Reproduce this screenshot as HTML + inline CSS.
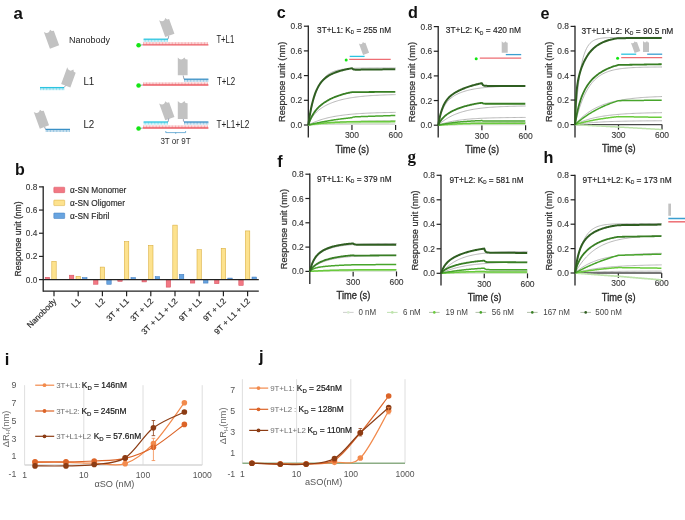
<!DOCTYPE html>
<html><head><meta charset="utf-8"><style>
html,body{margin:0;padding:0;background:#fff;}
body{width:685px;height:520px;overflow:hidden;}
svg{display:block;font-family:"Liberation Sans", sans-serif;will-change:transform;filter:blur(0.3px);}
</style></head><body>
<svg width="685" height="520" viewBox="0 0 685 520">
<rect width="685" height="520" fill="#fff"/>
<text x="13.40" y="19.00" font-size="16.8" fill="#111" font-weight="bold">a</text>
<path d="M-4.90,8.90 L-4.90,-8.90 Q-1.60,-4.63 1.70,-8.90 L2.84,-6.98 L4.90,-6.69 L4.90,8.90 Z" fill="#c2c2c2" transform="translate(51.50,38.60) rotate(-20)"/>
<text transform="translate(69.00,43.00) scale(1,1.08)" font-size="9.0" fill="#222" text-anchor="start" font-weight="normal" >Nanobody</text>
<path d="M40.60,87.60v2.60M42.05,87.60v2.60M43.50,87.60v2.60M44.95,87.60v2.60M46.40,87.60v2.60M47.85,87.60v2.60M49.30,87.60v2.60M50.75,87.60v2.60M52.20,87.60v2.60M53.65,87.60v2.60M55.10,87.60v2.60M56.55,87.60v2.60M58.00,87.60v2.60M59.45,87.60v2.60M60.90,87.60v2.60M62.35,87.60v2.60M63.80,87.60v2.60" stroke="#2cc4e0" stroke-width="0.65" fill="none" opacity="0.8"/>
<line x1="40.00" y1="87.60" x2="64.00" y2="87.60" stroke="#2cc4e0" stroke-width="1.3" />
<path d="M-4.90,8.90 L-4.90,-8.90 Q-1.60,-4.63 1.70,-8.90 L2.84,-6.98 L4.90,-6.69 L4.90,8.90 Z" fill="#c2c2c2" transform="translate(68.80,77.40) rotate(20)"/>
<line x1="64.00" y1="87.60" x2="65.60" y2="85.60" stroke="#5a6a80" stroke-width="0.6" />
<text transform="translate(83.40,84.80) scale(1,1.08)" font-size="9.8" fill="#222" text-anchor="start" font-weight="normal" >L1</text>
<path d="M46.20,129.40v2.60M47.65,129.40v2.60M49.10,129.40v2.60M50.55,129.40v2.60M52.00,129.40v2.60M53.45,129.40v2.60M54.90,129.40v2.60M56.35,129.40v2.60M57.80,129.40v2.60M59.25,129.40v2.60M60.70,129.40v2.60M62.15,129.40v2.60M63.60,129.40v2.60M65.05,129.40v2.60M66.50,129.40v2.60M67.95,129.40v2.60M69.40,129.40v2.60" stroke="#3a90c6" stroke-width="0.65" fill="none" opacity="0.8"/>
<line x1="45.60" y1="129.40" x2="70.00" y2="129.40" stroke="#3a90c6" stroke-width="1.3" />
<path d="M-4.90,8.90 L-4.90,-8.90 Q-1.60,-4.63 1.70,-8.90 L2.84,-6.98 L4.90,-6.69 L4.90,8.90 Z" fill="#c2c2c2" transform="translate(41.40,118.60) rotate(-20)"/>
<line x1="45.60" y1="129.40" x2="44.60" y2="127.00" stroke="#5a6a80" stroke-width="0.6" />
<text transform="translate(83.40,127.80) scale(1,1.08)" font-size="9.8" fill="#222" text-anchor="start" font-weight="normal" >L2</text>
<path d="M143.60,44.80v-2.60M145.05,44.80v-2.60M146.50,44.80v-2.60M147.95,44.80v-2.60M149.40,44.80v-2.60M150.85,44.80v-2.60M152.30,44.80v-2.60M153.75,44.80v-2.60M155.20,44.80v-2.60M156.65,44.80v-2.60M158.10,44.80v-2.60M159.55,44.80v-2.60M161.00,44.80v-2.60M162.45,44.80v-2.60M163.90,44.80v-2.60M165.35,44.80v-2.60M166.80,44.80v-2.60M168.25,44.80v-2.60M169.70,44.80v-2.60M171.15,44.80v-2.60M172.60,44.80v-2.60M174.05,44.80v-2.60M175.50,44.80v-2.60M176.95,44.80v-2.60M178.40,44.80v-2.60M179.85,44.80v-2.60M181.30,44.80v-2.60M182.75,44.80v-2.60M184.20,44.80v-2.60M185.65,44.80v-2.60M187.10,44.80v-2.60M188.55,44.80v-2.60M190.00,44.80v-2.60M191.45,44.80v-2.60M192.90,44.80v-2.60M194.35,44.80v-2.60M195.80,44.80v-2.60M197.25,44.80v-2.60M198.70,44.80v-2.60M200.15,44.80v-2.60M201.60,44.80v-2.60M203.05,44.80v-2.60M204.50,44.80v-2.60M205.95,44.80v-2.60M207.40,44.80v-2.60" stroke="#ec5c64" stroke-width="0.65" fill="none" opacity="0.8"/>
<line x1="143.00" y1="44.80" x2="208.40" y2="44.80" stroke="#ec5c64" stroke-width="1.3" />
<circle cx="138.6" cy="45.30" r="2.3" fill="#14e614"/>
<line x1="140.60" y1="45.10" x2="143.00" y2="44.80" stroke="#5a6a80" stroke-width="0.6" />
<path d="M144.20,39.20v2.60M145.65,39.20v2.60M147.10,39.20v2.60M148.55,39.20v2.60M150.00,39.20v2.60M151.45,39.20v2.60M152.90,39.20v2.60M154.35,39.20v2.60M155.80,39.20v2.60M157.25,39.20v2.60M158.70,39.20v2.60M160.15,39.20v2.60M161.60,39.20v2.60M163.05,39.20v2.60M164.50,39.20v2.60M165.95,39.20v2.60M167.40,39.20v2.60" stroke="#2cc4e0" stroke-width="0.65" fill="none" opacity="0.8"/>
<line x1="143.60" y1="39.20" x2="168.00" y2="39.20" stroke="#2cc4e0" stroke-width="1.3" />
<path d="M-4.90,8.90 L-4.90,-8.90 Q-1.60,-4.63 1.70,-8.90 L2.84,-6.98 L4.90,-6.69 L4.90,8.90 Z" fill="#c2c2c2" transform="translate(166.80,27.00) rotate(-20)"/>
<line x1="168.00" y1="39.20" x2="168.80" y2="36.00" stroke="#5a6a80" stroke-width="0.6" />
<text transform="translate(216.40,43.20) scale(1,1.08)" font-size="9.3" fill="#222" text-anchor="start" font-weight="normal" textLength="17.8" lengthAdjust="spacingAndGlyphs">T+L1</text>
<path d="M143.60,85.00v-2.60M145.05,85.00v-2.60M146.50,85.00v-2.60M147.95,85.00v-2.60M149.40,85.00v-2.60M150.85,85.00v-2.60M152.30,85.00v-2.60M153.75,85.00v-2.60M155.20,85.00v-2.60M156.65,85.00v-2.60M158.10,85.00v-2.60M159.55,85.00v-2.60M161.00,85.00v-2.60M162.45,85.00v-2.60M163.90,85.00v-2.60M165.35,85.00v-2.60M166.80,85.00v-2.60M168.25,85.00v-2.60M169.70,85.00v-2.60M171.15,85.00v-2.60M172.60,85.00v-2.60M174.05,85.00v-2.60M175.50,85.00v-2.60M176.95,85.00v-2.60M178.40,85.00v-2.60M179.85,85.00v-2.60M181.30,85.00v-2.60M182.75,85.00v-2.60M184.20,85.00v-2.60M185.65,85.00v-2.60M187.10,85.00v-2.60M188.55,85.00v-2.60M190.00,85.00v-2.60M191.45,85.00v-2.60M192.90,85.00v-2.60M194.35,85.00v-2.60M195.80,85.00v-2.60M197.25,85.00v-2.60M198.70,85.00v-2.60M200.15,85.00v-2.60M201.60,85.00v-2.60M203.05,85.00v-2.60M204.50,85.00v-2.60M205.95,85.00v-2.60M207.40,85.00v-2.60" stroke="#ec5c64" stroke-width="0.65" fill="none" opacity="0.8"/>
<line x1="143.00" y1="85.00" x2="208.40" y2="85.00" stroke="#ec5c64" stroke-width="1.3" />
<circle cx="138.6" cy="85.50" r="2.3" fill="#14e614"/>
<line x1="140.60" y1="85.30" x2="143.00" y2="85.00" stroke="#5a6a80" stroke-width="0.6" />
<path d="M184.60,79.20v2.60M186.05,79.20v2.60M187.50,79.20v2.60M188.95,79.20v2.60M190.40,79.20v2.60M191.85,79.20v2.60M193.30,79.20v2.60M194.75,79.20v2.60M196.20,79.20v2.60M197.65,79.20v2.60M199.10,79.20v2.60M200.55,79.20v2.60M202.00,79.20v2.60M203.45,79.20v2.60M204.90,79.20v2.60M206.35,79.20v2.60M207.80,79.20v2.60" stroke="#3a90c6" stroke-width="0.65" fill="none" opacity="0.8"/>
<line x1="184.00" y1="79.20" x2="208.40" y2="79.20" stroke="#3a90c6" stroke-width="1.3" />
<path d="M-4.90,8.90 L-4.90,-8.90 Q-1.60,-4.63 1.70,-8.90 L2.84,-6.98 L4.90,-6.69 L4.90,8.90 Z" fill="#c2c2c2" transform="translate(182.70,66.30) rotate(0)"/>
<line x1="184.00" y1="79.20" x2="183.20" y2="75.50" stroke="#5a6a80" stroke-width="0.6" />
<text transform="translate(217.00,85.20) scale(1,1.08)" font-size="9.3" fill="#222" text-anchor="start" font-weight="normal" textLength="18.2" lengthAdjust="spacingAndGlyphs">T+L2</text>
<path d="M143.60,128.00v-2.60M145.05,128.00v-2.60M146.50,128.00v-2.60M147.95,128.00v-2.60M149.40,128.00v-2.60M150.85,128.00v-2.60M152.30,128.00v-2.60M153.75,128.00v-2.60M155.20,128.00v-2.60M156.65,128.00v-2.60M158.10,128.00v-2.60M159.55,128.00v-2.60M161.00,128.00v-2.60M162.45,128.00v-2.60M163.90,128.00v-2.60M165.35,128.00v-2.60M166.80,128.00v-2.60M168.25,128.00v-2.60M169.70,128.00v-2.60M171.15,128.00v-2.60M172.60,128.00v-2.60M174.05,128.00v-2.60M175.50,128.00v-2.60M176.95,128.00v-2.60M178.40,128.00v-2.60M179.85,128.00v-2.60M181.30,128.00v-2.60M182.75,128.00v-2.60M184.20,128.00v-2.60M185.65,128.00v-2.60M187.10,128.00v-2.60M188.55,128.00v-2.60M190.00,128.00v-2.60M191.45,128.00v-2.60M192.90,128.00v-2.60M194.35,128.00v-2.60M195.80,128.00v-2.60M197.25,128.00v-2.60M198.70,128.00v-2.60M200.15,128.00v-2.60M201.60,128.00v-2.60M203.05,128.00v-2.60M204.50,128.00v-2.60M205.95,128.00v-2.60M207.40,128.00v-2.60" stroke="#ec5c64" stroke-width="0.65" fill="none" opacity="0.8"/>
<line x1="143.00" y1="128.00" x2="208.40" y2="128.00" stroke="#ec5c64" stroke-width="1.3" />
<circle cx="138.6" cy="128.50" r="2.3" fill="#14e614"/>
<line x1="140.60" y1="128.30" x2="143.00" y2="128.00" stroke="#5a6a80" stroke-width="0.6" />
<path d="M144.20,122.00v2.60M145.65,122.00v2.60M147.10,122.00v2.60M148.55,122.00v2.60M150.00,122.00v2.60M151.45,122.00v2.60M152.90,122.00v2.60M154.35,122.00v2.60M155.80,122.00v2.60M157.25,122.00v2.60M158.70,122.00v2.60M160.15,122.00v2.60M161.60,122.00v2.60M163.05,122.00v2.60M164.50,122.00v2.60M165.95,122.00v2.60M167.40,122.00v2.60" stroke="#2cc4e0" stroke-width="0.65" fill="none" opacity="0.8"/>
<line x1="143.60" y1="122.00" x2="168.00" y2="122.00" stroke="#2cc4e0" stroke-width="1.3" />
<path d="M184.60,122.00v2.60M186.05,122.00v2.60M187.50,122.00v2.60M188.95,122.00v2.60M190.40,122.00v2.60M191.85,122.00v2.60M193.30,122.00v2.60M194.75,122.00v2.60M196.20,122.00v2.60M197.65,122.00v2.60M199.10,122.00v2.60M200.55,122.00v2.60M202.00,122.00v2.60M203.45,122.00v2.60M204.90,122.00v2.60M206.35,122.00v2.60M207.80,122.00v2.60" stroke="#3a90c6" stroke-width="0.65" fill="none" opacity="0.8"/>
<line x1="184.00" y1="122.00" x2="208.40" y2="122.00" stroke="#3a90c6" stroke-width="1.3" />
<path d="M-4.90,8.90 L-4.90,-8.90 Q-1.60,-4.63 1.70,-8.90 L2.84,-6.98 L4.90,-6.69 L4.90,8.90 Z" fill="#c2c2c2" transform="translate(166.80,110.20) rotate(-20)"/>
<path d="M-4.90,8.90 L-4.90,-8.90 Q-1.60,-4.63 1.70,-8.90 L2.84,-6.98 L4.90,-6.69 L4.90,8.90 Z" fill="#c2c2c2" transform="translate(182.70,110.00) rotate(0)"/>
<line x1="168.00" y1="122.00" x2="168.80" y2="118.60" stroke="#5a6a90" stroke-width="0.6" />
<line x1="183.40" y1="119.00" x2="183.40" y2="121.20" stroke="#5a6a90" stroke-width="0.6" />
<line x1="183.40" y1="121.20" x2="184.40" y2="122.00" stroke="#5a6a90" stroke-width="0.6" />
<text transform="translate(216.40,128.30) scale(1,1.08)" font-size="9.3" fill="#222" text-anchor="start" font-weight="normal" textLength="33" lengthAdjust="spacingAndGlyphs">T+L1+L2</text>
<path d="M165.8,131 v1.6 H185.6 V131 M175.7,132.6 v1.2" stroke="#3a90c6" stroke-width="0.7" fill="none"/>
<text transform="translate(160.40,144.20) scale(1,1.08)" font-size="8.5" fill="#2a2a2a" text-anchor="start" font-weight="normal" textLength="30.2" lengthAdjust="spacingAndGlyphs">3T or 9T</text>
<text x="15.00" y="174.60" font-size="16" fill="#111" font-weight="bold">b</text>
<line x1="43.20" y1="186.28" x2="43.20" y2="291.70" stroke="#222" stroke-width="1.3" />
<line x1="39.00" y1="186.88" x2="43.20" y2="186.88" stroke="#222" stroke-width="1.2" />
<text transform="translate(37.30,189.88) scale(1,1.08)" font-size="8.3" fill="#383838" text-anchor="end" font-weight="normal" stroke="#383838" stroke-width="0.12">0.8</text>
<line x1="39.00" y1="210.06" x2="43.20" y2="210.06" stroke="#222" stroke-width="1.2" />
<text transform="translate(37.30,213.06) scale(1,1.08)" font-size="8.3" fill="#383838" text-anchor="end" font-weight="normal" stroke="#383838" stroke-width="0.12">0.6</text>
<line x1="39.00" y1="233.24" x2="43.20" y2="233.24" stroke="#222" stroke-width="1.2" />
<text transform="translate(37.30,236.24) scale(1,1.08)" font-size="8.3" fill="#383838" text-anchor="end" font-weight="normal" stroke="#383838" stroke-width="0.12">0.4</text>
<line x1="39.00" y1="256.42" x2="43.20" y2="256.42" stroke="#222" stroke-width="1.2" />
<text transform="translate(37.30,259.42) scale(1,1.08)" font-size="8.3" fill="#383838" text-anchor="end" font-weight="normal" stroke="#383838" stroke-width="0.12">0.2</text>
<line x1="39.00" y1="279.60" x2="43.20" y2="279.60" stroke="#222" stroke-width="1.2" />
<text transform="translate(37.30,282.60) scale(1,1.08)" font-size="8.3" fill="#383838" text-anchor="end" font-weight="normal" stroke="#383838" stroke-width="0.12">0.0</text>
<line x1="43.20" y1="291.10" x2="258.80" y2="291.10" stroke="#222" stroke-width="1.3" />
<text transform="translate(20.9,238.9) rotate(-90) scale(1,1.06)" font-size="8.6" fill="#333" stroke="#333" stroke-width="0.25" text-anchor="middle">Response unit (nm)</text>
<rect x="45.20" y="277.28" width="4.4" height="2.32" fill="#f27884" stroke="#d84e5c" stroke-width="0.55"/>
<rect x="51.80" y="261.40" width="4.4" height="18.20" fill="#fde28e" stroke="#d8aa38" stroke-width="0.55"/>
<line x1="54.00" y1="291.10" x2="54.00" y2="296.20" stroke="#222" stroke-width="1.2" />
<text transform="translate(57.00,301.80) rotate(-45)" font-size="8.3" fill="#2a2a2a" stroke="#2a2a2a" stroke-width="0.15" text-anchor="end">Nanobody</text>
<rect x="69.40" y="275.20" width="4.4" height="4.40" fill="#f27884" stroke="#d84e5c" stroke-width="0.55"/>
<rect x="76.00" y="276.35" width="4.4" height="3.25" fill="#fde28e" stroke="#d8aa38" stroke-width="0.55"/>
<rect x="82.60" y="277.63" width="4.4" height="1.97" fill="#68a4e0" stroke="#3a78bc" stroke-width="0.55"/>
<line x1="78.20" y1="291.10" x2="78.20" y2="296.20" stroke="#222" stroke-width="1.2" />
<text transform="translate(81.20,301.80) rotate(-45)" font-size="8.3" fill="#2a2a2a" stroke="#2a2a2a" stroke-width="0.15" text-anchor="end">L1</text>
<rect x="93.60" y="279.60" width="4.4" height="4.64" fill="#f27884" stroke="#d84e5c" stroke-width="0.55"/>
<rect x="100.20" y="267.08" width="4.4" height="12.52" fill="#fde28e" stroke="#d8aa38" stroke-width="0.55"/>
<rect x="106.80" y="279.60" width="4.4" height="4.64" fill="#68a4e0" stroke="#3a78bc" stroke-width="0.55"/>
<line x1="102.40" y1="291.10" x2="102.40" y2="296.20" stroke="#222" stroke-width="1.2" />
<text transform="translate(105.40,301.80) rotate(-45)" font-size="8.3" fill="#2a2a2a" stroke="#2a2a2a" stroke-width="0.15" text-anchor="end">L2</text>
<rect x="117.80" y="279.60" width="4.4" height="1.74" fill="#f27884" stroke="#d84e5c" stroke-width="0.55"/>
<rect x="124.40" y="241.58" width="4.4" height="38.02" fill="#fde28e" stroke="#d8aa38" stroke-width="0.55"/>
<rect x="131.00" y="277.63" width="4.4" height="1.97" fill="#68a4e0" stroke="#3a78bc" stroke-width="0.55"/>
<line x1="126.60" y1="291.10" x2="126.60" y2="296.20" stroke="#222" stroke-width="1.2" />
<text transform="translate(129.60,301.80) rotate(-45)" font-size="8.3" fill="#2a2a2a" stroke="#2a2a2a" stroke-width="0.15" text-anchor="end">3T + L1</text>
<rect x="142.00" y="279.60" width="4.4" height="2.32" fill="#f27884" stroke="#d84e5c" stroke-width="0.55"/>
<rect x="148.60" y="245.41" width="4.4" height="34.19" fill="#fde28e" stroke="#d8aa38" stroke-width="0.55"/>
<rect x="155.20" y="276.70" width="4.4" height="2.90" fill="#68a4e0" stroke="#3a78bc" stroke-width="0.55"/>
<line x1="150.80" y1="291.10" x2="150.80" y2="296.20" stroke="#222" stroke-width="1.2" />
<text transform="translate(153.80,301.80) rotate(-45)" font-size="8.3" fill="#2a2a2a" stroke="#2a2a2a" stroke-width="0.15" text-anchor="end">3T + L2</text>
<rect x="166.20" y="279.60" width="4.4" height="7.53" fill="#f27884" stroke="#d84e5c" stroke-width="0.55"/>
<rect x="172.80" y="225.13" width="4.4" height="54.47" fill="#fde28e" stroke="#d8aa38" stroke-width="0.55"/>
<rect x="179.40" y="274.38" width="4.4" height="5.22" fill="#68a4e0" stroke="#3a78bc" stroke-width="0.55"/>
<line x1="175.00" y1="291.10" x2="175.00" y2="296.20" stroke="#222" stroke-width="1.2" />
<text transform="translate(178.00,301.80) rotate(-45)" font-size="8.3" fill="#2a2a2a" stroke="#2a2a2a" stroke-width="0.15" text-anchor="end">3T + L1 + L2</text>
<rect x="190.40" y="279.60" width="4.4" height="3.48" fill="#f27884" stroke="#d84e5c" stroke-width="0.55"/>
<rect x="197.00" y="249.70" width="4.4" height="29.90" fill="#fde28e" stroke="#d8aa38" stroke-width="0.55"/>
<rect x="203.60" y="279.60" width="4.4" height="3.48" fill="#68a4e0" stroke="#3a78bc" stroke-width="0.55"/>
<line x1="199.20" y1="291.10" x2="199.20" y2="296.20" stroke="#222" stroke-width="1.2" />
<text transform="translate(202.20,301.80) rotate(-45)" font-size="8.3" fill="#2a2a2a" stroke="#2a2a2a" stroke-width="0.15" text-anchor="end">9T + L1</text>
<rect x="214.60" y="279.60" width="4.4" height="4.06" fill="#f27884" stroke="#d84e5c" stroke-width="0.55"/>
<rect x="221.20" y="248.31" width="4.4" height="31.29" fill="#fde28e" stroke="#d8aa38" stroke-width="0.55"/>
<rect x="227.80" y="278.09" width="4.4" height="1.51" fill="#68a4e0" stroke="#3a78bc" stroke-width="0.55"/>
<line x1="223.40" y1="291.10" x2="223.40" y2="296.20" stroke="#222" stroke-width="1.2" />
<text transform="translate(226.40,301.80) rotate(-45)" font-size="8.3" fill="#2a2a2a" stroke="#2a2a2a" stroke-width="0.15" text-anchor="end">9T + L2</text>
<rect x="238.80" y="279.60" width="4.4" height="5.80" fill="#f27884" stroke="#d84e5c" stroke-width="0.55"/>
<rect x="245.40" y="230.92" width="4.4" height="48.68" fill="#fde28e" stroke="#d8aa38" stroke-width="0.55"/>
<rect x="252.00" y="277.05" width="4.4" height="2.55" fill="#68a4e0" stroke="#3a78bc" stroke-width="0.55"/>
<line x1="247.60" y1="291.10" x2="247.60" y2="296.20" stroke="#222" stroke-width="1.2" />
<text transform="translate(250.60,301.80) rotate(-45)" font-size="8.3" fill="#2a2a2a" stroke="#2a2a2a" stroke-width="0.15" text-anchor="end">9T + L1 + L2</text>
<line x1="43.20" y1="279.60" x2="258.80" y2="279.60" stroke="#222" stroke-width="1.4" />
<rect x="53.8" y="187.20" width="10.9" height="5.5" fill="#f27884" stroke="#d84e5c" stroke-width="0.5" rx="0.6"/>
<text transform="translate(70.00,192.80) scale(1,1.08)" font-size="8.3" fill="#2a2a2a" text-anchor="start" font-weight="normal" stroke="#2a2a2a" stroke-width="0.15">α-SN Monomer</text>
<rect x="53.8" y="200.10" width="10.9" height="5.5" fill="#fde28e" stroke="#d8aa38" stroke-width="0.5" rx="0.6"/>
<text transform="translate(70.00,205.70) scale(1,1.08)" font-size="8.3" fill="#2a2a2a" text-anchor="start" font-weight="normal" stroke="#2a2a2a" stroke-width="0.15">α-SN Oligomer</text>
<rect x="53.8" y="213.00" width="10.9" height="5.5" fill="#68a4e0" stroke="#3a78bc" stroke-width="0.5" rx="0.6"/>
<text transform="translate(70.00,218.60) scale(1,1.08)" font-size="8.3" fill="#2a2a2a" text-anchor="start" font-weight="normal" stroke="#2a2a2a" stroke-width="0.15">α-SN Fibril</text>
<text x="276.80" y="17.80" font-size="16.2" fill="#111" font-weight="bold">c</text>
<line x1="308.30" y1="25.60" x2="308.30" y2="137.50" stroke="#222" stroke-width="1.3" />
<line x1="303.90" y1="26.20" x2="308.30" y2="26.20" stroke="#222" stroke-width="1.2" />
<text transform="translate(302.30,29.20) scale(1,1.08)" font-size="8.4" fill="#383838" text-anchor="end" font-weight="normal" stroke="#383838" stroke-width="0.12">0.8</text>
<line x1="303.90" y1="50.90" x2="308.30" y2="50.90" stroke="#222" stroke-width="1.2" />
<text transform="translate(302.30,53.90) scale(1,1.08)" font-size="8.4" fill="#383838" text-anchor="end" font-weight="normal" stroke="#383838" stroke-width="0.12">0.6</text>
<line x1="303.90" y1="75.60" x2="308.30" y2="75.60" stroke="#222" stroke-width="1.2" />
<text transform="translate(302.30,78.60) scale(1,1.08)" font-size="8.4" fill="#383838" text-anchor="end" font-weight="normal" stroke="#383838" stroke-width="0.12">0.4</text>
<line x1="303.90" y1="100.30" x2="308.30" y2="100.30" stroke="#222" stroke-width="1.2" />
<text transform="translate(302.30,103.30) scale(1,1.08)" font-size="8.4" fill="#383838" text-anchor="end" font-weight="normal" stroke="#383838" stroke-width="0.12">0.2</text>
<line x1="303.90" y1="125.00" x2="308.30" y2="125.00" stroke="#222" stroke-width="1.2" />
<text transform="translate(302.30,128.00) scale(1,1.08)" font-size="8.4" fill="#383838" text-anchor="end" font-weight="normal" stroke="#383838" stroke-width="0.12">0.0</text>
<line x1="351.95" y1="125.00" x2="351.95" y2="130.00" stroke="#222" stroke-width="1.2" />
<text transform="translate(351.95,138.30) scale(1,1.08)" font-size="8.5" fill="#383838" text-anchor="middle" font-weight="normal" stroke="#383838" stroke-width="0.12">300</text>
<line x1="395.60" y1="125.00" x2="395.60" y2="130.00" stroke="#222" stroke-width="1.2" />
<text transform="translate(395.60,138.30) scale(1,1.08)" font-size="8.5" fill="#383838" text-anchor="middle" font-weight="normal" stroke="#383838" stroke-width="0.12">600</text>
<text transform="translate(352.25,152.80) scale(1,1.08)" font-size="9.3" fill="#2a2a2a" text-anchor="middle" font-weight="normal" stroke="#2a2a2a" stroke-width="0.3">Time (s)</text>
<text transform="translate(285.30,81.85) rotate(-90) scale(1,1.06)" font-size="9.2" fill="#333" stroke="#333" stroke-width="0.25" text-anchor="middle">Response unit (nm)</text>
<text transform="translate(317.10,32.90) scale(1,1.08)" font-size="9.2" fill="#222" stroke="#222" stroke-width="0.15" textLength="74" lengthAdjust="spacingAndGlyphs">3T+L1: K<tspan font-size="5.06" dy="1.3">D</tspan><tspan dy="-1.3"> = 255 nM</tspan></text>
<polyline points="308.30,125.00 309.46,124.39 310.63,123.81 311.79,123.26 312.96,122.73 314.12,122.23 315.28,121.76 316.45,121.30 317.61,120.87 318.78,120.45 319.94,120.06 321.10,119.68 322.27,119.32 323.43,118.98 324.60,118.65 325.76,118.34 326.92,118.05 328.09,117.77 329.25,117.50 330.42,117.24 331.58,117.00 332.74,116.76 333.91,116.54 335.07,116.33 336.24,116.13 337.40,115.94 338.56,115.76 339.73,115.58 340.89,115.41 342.06,115.26 343.22,115.10 344.38,114.96 345.55,114.82 346.71,114.69 347.88,114.57 349.04,114.45 350.20,114.34 351.37,114.23 352.53,114.13 353.70,114.03 354.86,113.93 356.02,113.84 357.19,113.76 358.35,113.68 359.52,113.60 360.68,113.53 361.84,113.46 363.01,113.39 364.17,113.33 365.34,113.27 366.50,113.21 367.66,113.15 368.83,113.10 369.99,113.05 371.16,113.00 372.32,112.96 373.48,112.91 374.65,112.87 375.81,112.83 376.98,112.80 378.14,112.76 379.30,112.73 380.47,112.69 381.63,112.66 382.80,112.63 383.96,112.61 385.12,112.58 386.29,112.55 387.45,112.53 388.62,112.51 389.78,112.48 390.94,112.46 392.11,112.44 393.27,112.42 394.44,112.40 395.60,112.39" fill="none" stroke="#a0a0a0" stroke-width="0.75"/>
<polyline points="308.30,125.00 309.46,122.24 310.63,119.91 311.79,117.92 312.96,116.20 314.12,114.69 315.28,113.36 316.45,112.16 317.61,111.08 318.78,110.09 319.94,109.19 321.10,108.35 322.27,107.57 323.43,106.85 324.60,106.17 325.76,105.54 326.92,104.94 328.09,104.38 329.25,103.85 330.42,103.35 331.58,102.88 332.74,102.43 333.91,102.01 335.07,101.60 336.24,101.22 337.40,100.86 338.56,100.52 339.73,100.19 340.89,99.89 342.06,99.59 343.22,99.32 344.38,99.05 345.55,98.80 346.71,98.57 347.88,98.34 349.04,98.13 350.20,97.92 351.37,97.73 352.53,97.55 353.70,97.38 354.86,97.21 356.02,97.05 357.19,96.91 358.35,96.77 359.52,96.63 360.68,96.50 361.84,96.38 363.01,96.27 364.17,96.16 365.34,96.06 366.50,95.96 367.66,95.87 368.83,95.78 369.99,95.69 371.16,95.62 372.32,95.54 373.48,95.47 374.65,95.40 375.81,95.34 376.98,95.27 378.14,95.22 379.30,95.16 380.47,95.11 381.63,95.06 382.80,95.01 383.96,94.97 385.12,94.92 386.29,94.88 387.45,94.84 388.62,94.81 389.78,94.77 390.94,94.74 392.11,94.71 393.27,94.68 394.44,94.65 395.60,94.62" fill="none" stroke="#a0a0a0" stroke-width="0.75"/>
<polyline points="308.30,125.00 309.46,118.14 310.63,112.11 311.79,106.81 312.96,102.14 314.12,98.03 315.28,94.41 316.45,91.23 317.61,88.44 318.78,85.97 319.94,83.81 321.10,81.90 322.27,80.22 323.43,78.75 324.60,77.45 325.76,76.31 326.92,75.30 328.09,74.42 329.25,73.64 330.42,72.96 331.58,72.35 332.74,71.82 333.91,71.36 335.07,70.95 336.24,70.59 337.40,70.27 338.56,69.99 339.73,69.74 340.89,69.53 342.06,69.34 343.22,69.17 344.38,69.02 345.55,68.89 346.71,68.78 347.88,68.68 349.04,68.59 350.20,68.51 351.37,68.44 352.53,68.38 353.70,68.33 354.86,68.28 356.02,68.24 357.19,68.21 358.35,68.18 359.52,68.15 360.68,68.12 361.84,68.10 363.01,68.08 364.17,68.07 365.34,68.05 366.50,68.04 367.66,68.03 368.83,68.02 369.99,68.01 371.16,68.00 372.32,67.99 373.48,67.99 374.65,67.98 375.81,67.98 376.98,67.97 378.14,67.97 379.30,67.97 380.47,67.96 381.63,67.96 382.80,67.96 383.96,67.96 385.12,67.96 386.29,67.95 387.45,67.95 388.62,67.95 389.78,67.95 390.94,67.95 392.11,67.95 393.27,67.95 394.44,67.95 395.60,67.95" fill="none" stroke="#a0a0a0" stroke-width="0.75"/>
<polyline points="308.30,125.00 309.46,124.80 310.63,124.60 311.79,124.42 312.96,124.24 314.12,124.08 315.28,123.92 316.45,123.77 317.61,123.62 318.78,123.48 319.94,123.35 321.10,123.23 322.27,123.11 323.43,122.99 324.60,122.88 325.76,122.78 326.92,122.68 328.09,122.59 329.25,122.50 330.42,122.41 331.58,122.33 332.74,122.25 333.91,122.18 335.07,122.11 336.24,122.04 337.40,121.98 338.56,121.92 339.73,121.86 340.89,121.80 342.06,121.75 343.22,121.70 344.38,121.65 345.55,121.61 346.71,121.56 347.88,121.52 349.04,121.48 350.20,121.45 351.37,121.41 352.53,121.38 353.70,121.34 354.86,121.31 356.02,121.28 357.19,121.25 358.35,121.23 359.52,121.20 360.68,121.18 361.84,121.15 363.01,121.13 364.17,121.11 365.34,121.09 366.50,121.07 367.66,121.05 368.83,121.03 369.99,121.02 371.16,121.00 372.32,120.99 373.48,120.97 374.65,120.96 375.81,120.94 376.98,120.93 378.14,120.92 379.30,120.91 380.47,120.90 381.63,120.89 382.80,120.88 383.96,120.87 385.12,120.86 386.29,120.85 387.45,120.84 388.62,120.84 389.78,120.83 390.94,120.82 392.11,120.81 393.27,120.81 394.44,120.80 395.60,120.80" fill="none" stroke="#a0a0a0" stroke-width="0.75"/>
<polyline points="308.30,125.00 309.03,124.95 309.75,124.91 310.48,124.86 311.21,124.82 311.94,124.78 312.67,124.74 313.39,124.71 314.12,124.67 314.85,124.64 315.57,124.61 316.30,124.58 317.03,124.55 317.76,124.53 318.49,124.50 319.21,124.48 319.94,124.46 320.67,124.43 321.40,124.41 322.12,124.39 322.85,124.38 323.58,124.36 324.31,124.34 325.03,124.32 325.76,124.31 326.49,124.30 327.22,124.28 327.94,124.27 328.67,124.26 329.40,124.24 330.12,124.23 330.85,124.22 331.58,124.21 332.31,124.20 333.04,124.19 333.76,124.18 334.49,124.18 335.22,124.17 335.94,124.16 336.67,124.15 337.40,124.15 338.13,124.14 338.86,124.13 339.58,124.13 340.31,124.12 341.04,124.12 341.76,124.11 342.49,124.11 343.22,124.10 343.95,124.10 344.68,124.09 345.40,124.09 346.13,124.09 346.86,124.08 347.59,124.08 348.31,124.08 349.04,124.07 349.77,124.07 350.50,124.07 351.22,124.06 351.95,124.06 352.39,124.06 353.11,124.06 353.84,124.06 354.57,124.06 355.30,124.06 356.02,124.06 356.75,124.06 357.48,124.06 358.21,124.06 358.93,124.06 359.66,124.06 360.39,124.06 361.12,124.06 361.84,124.06 362.57,124.06 363.30,124.06 364.03,124.06 364.75,124.06 365.48,124.06 366.21,124.06 366.94,124.06 367.66,124.06 368.39,124.06 369.12,124.06 369.85,124.06 370.57,124.06 371.30,124.06 372.03,124.06 372.76,124.06 373.48,124.06 374.21,124.06 374.94,124.06 375.67,124.06 376.39,124.06 377.12,124.06 377.85,124.06 378.58,124.06 379.30,124.06 380.03,124.06 380.76,124.06 381.49,124.06 382.21,124.06 382.94,124.06 383.67,124.06 384.40,124.06 385.12,124.06 385.85,124.06 386.58,124.06 387.31,124.06 388.03,124.06 388.76,124.06 389.49,124.06 390.22,124.06 390.94,124.06 391.67,124.06 392.40,124.06 393.13,124.06 393.85,124.06 394.58,124.06 395.31,124.06" fill="none" stroke="#cfcfcf" stroke-width="1.2" stroke-linejoin="round"/>
<polyline points="308.30,125.00 309.03,124.93 309.75,124.86 310.48,124.79 311.21,124.72 311.94,124.66 312.67,124.59 313.39,124.53 314.12,124.47 314.85,124.42 315.57,124.36 316.30,124.31 317.03,124.25 317.76,124.20 318.49,124.15 319.21,124.10 319.94,124.06 320.67,124.01 321.40,123.97 322.12,123.93 322.85,123.89 323.58,123.85 324.31,123.81 325.03,123.77 325.76,123.73 326.49,123.70 327.22,123.66 327.94,123.63 328.67,123.60 329.40,123.56 330.12,123.53 330.85,123.50 331.58,123.48 332.31,123.45 333.04,123.42 333.76,123.39 334.49,123.37 335.22,123.34 335.94,123.32 336.67,123.30 337.40,123.27 338.13,123.25 338.86,123.23 339.58,123.21 340.31,123.19 341.04,123.17 341.76,123.15 342.49,123.13 343.22,123.12 343.95,123.10 344.68,123.08 345.40,123.06 346.13,123.05 346.86,123.03 347.59,123.02 348.31,123.00 349.04,122.99 349.77,122.98 350.50,122.96 351.22,122.95 351.95,122.94 352.39,122.93 353.11,122.93 353.84,122.92 354.57,122.92 355.30,122.91 356.02,122.90 356.75,122.90 357.48,122.89 358.21,122.89 358.93,122.88 359.66,122.87 360.39,122.87 361.12,122.86 361.84,122.85 362.57,122.85 363.30,122.84 364.03,122.84 364.75,122.83 365.48,122.82 366.21,122.82 366.94,122.81 367.66,122.80 368.39,122.80 369.12,122.79 369.85,122.79 370.57,122.78 371.30,122.77 372.03,122.77 372.76,122.76 373.48,122.76 374.21,122.75 374.94,122.74 375.67,122.74 376.39,122.73 377.12,122.72 377.85,122.72 378.58,122.71 379.30,122.71 380.03,122.70 380.76,122.69 381.49,122.69 382.21,122.68 382.94,122.68 383.67,122.67 384.40,122.66 385.12,122.66 385.85,122.65 386.58,122.64 387.31,122.64 388.03,122.63 388.76,122.63 389.49,122.62 390.22,122.61 390.94,122.61 391.67,122.60 392.40,122.59 393.13,122.59 393.85,122.58 394.58,122.58 395.31,122.57" fill="none" stroke="#bde3aa" stroke-width="1.5" stroke-linejoin="round"/>
<polyline points="308.30,125.00 309.03,124.88 309.75,124.77 310.48,124.66 311.21,124.55 311.94,124.45 312.67,124.35 313.39,124.25 314.12,124.16 314.85,124.06 315.57,123.98 316.30,123.89 317.03,123.81 317.76,123.72 318.49,123.64 319.21,123.57 319.94,123.49 320.67,123.42 321.40,123.35 322.12,123.28 322.85,123.22 323.58,123.15 324.31,123.09 325.03,123.03 325.76,122.97 326.49,122.91 327.22,122.86 327.94,122.81 328.67,122.75 329.40,122.70 330.12,122.65 330.85,122.61 331.58,122.56 332.31,122.52 333.04,122.47 333.76,122.43 334.49,122.39 335.22,122.35 335.94,122.31 336.67,122.27 337.40,122.24 338.13,122.20 338.86,122.17 339.58,122.14 340.31,122.10 341.04,122.07 341.76,122.04 342.49,122.01 343.22,121.98 343.95,121.96 344.68,121.93 345.40,121.90 346.13,121.88 346.86,121.85 347.59,121.83 348.31,121.81 349.04,121.78 349.77,121.76 350.50,121.74 351.22,121.72 351.95,121.70 352.39,121.70 353.11,121.69 353.84,121.69 354.57,121.68 355.30,121.67 356.02,121.67 356.75,121.66 357.48,121.65 358.21,121.65 358.93,121.64 359.66,121.64 360.39,121.63 361.12,121.62 361.84,121.62 362.57,121.61 363.30,121.60 364.03,121.60 364.75,121.59 365.48,121.59 366.21,121.58 366.94,121.57 367.66,121.57 368.39,121.56 369.12,121.56 369.85,121.55 370.57,121.54 371.30,121.54 372.03,121.53 372.76,121.52 373.48,121.52 374.21,121.51 374.94,121.51 375.67,121.50 376.39,121.49 377.12,121.49 377.85,121.48 378.58,121.48 379.30,121.47 380.03,121.46 380.76,121.46 381.49,121.45 382.21,121.44 382.94,121.44 383.67,121.43 384.40,121.43 385.12,121.42 385.85,121.41 386.58,121.41 387.31,121.40 388.03,121.39 388.76,121.39 389.49,121.38 390.22,121.38 390.94,121.37 391.67,121.36 392.40,121.36 393.13,121.35 393.85,121.35 394.58,121.34 395.31,121.33" fill="none" stroke="#6acb3c" stroke-width="1.5" stroke-linejoin="round"/>
<polyline points="308.30,125.00 309.03,124.82 309.75,124.64 310.48,124.46 311.21,124.28 311.94,124.11 312.67,123.94 313.39,123.77 314.12,123.60 314.85,123.44 315.57,123.28 316.30,123.12 317.03,122.97 317.76,122.81 318.49,122.66 319.21,122.51 319.94,122.36 320.67,122.22 321.40,122.08 322.12,121.94 322.85,121.80 323.58,121.66 324.31,121.53 325.03,121.40 325.76,121.27 326.49,121.14 327.22,121.01 327.94,120.89 328.67,120.76 329.40,120.64 330.12,120.52 330.85,120.41 331.58,120.29 332.31,120.18 333.04,120.07 333.76,119.96 334.49,119.85 335.22,119.74 335.94,119.63 336.67,119.53 337.40,119.43 338.13,119.33 338.86,119.23 339.58,119.13 340.31,119.03 341.04,118.94 341.76,118.84 342.49,118.75 343.22,118.66 343.95,118.57 344.68,118.48 345.40,118.40 346.13,118.31 346.86,118.23 347.59,118.14 348.31,118.06 349.04,117.98 349.77,117.90 350.50,117.82 351.22,117.75 351.95,117.67 352.39,117.40 353.11,117.13 353.84,116.98 354.57,116.90 355.30,116.84 356.02,116.81 356.75,116.77 357.48,116.75 358.21,116.72 358.93,116.69 359.66,116.67 360.39,116.64 361.12,116.62 361.84,116.59 362.57,116.57 363.30,116.54 364.03,116.52 364.75,116.50 365.48,116.47 366.21,116.45 366.94,116.42 367.66,116.40 368.39,116.37 369.12,116.35 369.85,116.32 370.57,116.30 371.30,116.27 372.03,116.25 372.76,116.22 373.48,116.20 374.21,116.17 374.94,116.15 375.67,116.12 376.39,116.10 377.12,116.08 377.85,116.05 378.58,116.03 379.30,116.00 380.03,115.98 380.76,115.95 381.49,115.93 382.21,115.90 382.94,115.88 383.67,115.85 384.40,115.83 385.12,115.80 385.85,115.78 386.58,115.75 387.31,115.73 388.03,115.71 388.76,115.68 389.49,115.66 390.22,115.63 390.94,115.61 391.67,115.58 392.40,115.56 393.13,115.53 393.85,115.51 394.58,115.48 395.31,115.46" fill="none" stroke="#48a52c" stroke-width="1.5" stroke-linejoin="round"/>
<polyline points="308.30,125.00 309.03,122.86 309.75,120.95 310.48,119.22 311.21,117.66 311.94,116.23 312.67,114.93 313.39,113.74 314.12,112.63 314.85,111.61 315.57,110.65 316.30,109.76 317.03,108.93 317.76,108.14 318.49,107.39 319.21,106.69 319.94,106.02 320.67,105.39 321.40,104.78 322.12,104.20 322.85,103.65 323.58,103.12 324.31,102.61 325.03,102.12 325.76,101.65 326.49,101.20 327.22,100.76 327.94,100.34 328.67,99.94 329.40,99.55 330.12,99.17 330.85,98.81 331.58,98.45 332.31,98.11 333.04,97.79 333.76,97.47 334.49,97.16 335.22,96.87 335.94,96.58 336.67,96.30 337.40,96.03 338.13,95.78 338.86,95.52 339.58,95.28 340.31,95.05 341.04,94.82 341.76,94.60 342.49,94.39 343.22,94.18 343.95,93.98 344.68,93.79 345.40,93.60 346.13,93.42 346.86,93.24 347.59,93.08 348.31,92.91 349.04,92.75 349.77,92.60 350.50,92.45 351.22,92.31 351.95,92.17 352.39,92.16 353.11,92.16 353.84,92.15 354.57,92.14 355.30,92.14 356.02,92.13 356.75,92.13 357.48,92.12 358.21,92.11 358.93,92.11 359.66,92.10 360.39,92.10 361.12,92.09 361.84,92.08 362.57,92.08 363.30,92.07 364.03,92.06 364.75,92.06 365.48,92.05 366.21,92.05 366.94,92.04 367.66,92.03 368.39,92.03 369.12,92.02 369.85,92.02 370.57,92.01 371.30,92.00 372.03,92.00 372.76,91.99 373.48,91.98 374.21,91.98 374.94,91.97 375.67,91.97 376.39,91.96 377.12,91.95 377.85,91.95 378.58,91.94 379.30,91.94 380.03,91.93 380.76,91.92 381.49,91.92 382.21,91.91 382.94,91.90 383.67,91.90 384.40,91.89 385.12,91.89 385.85,91.88 386.58,91.87 387.31,91.87 388.03,91.86 388.76,91.85 389.49,91.85 390.22,91.84 390.94,91.84 391.67,91.83 392.40,91.82 393.13,91.82 393.85,91.81 394.58,91.81 395.31,91.80" fill="none" stroke="#387f24" stroke-width="1.8" stroke-linejoin="round"/>
<polyline points="308.30,125.00 309.03,119.98 309.75,115.48 310.48,111.45 311.21,107.82 311.94,104.56 312.67,101.62 313.39,98.97 314.12,96.58 314.85,94.42 315.57,92.47 316.30,90.69 317.03,89.08 317.76,87.62 318.49,86.28 319.21,85.06 319.94,83.95 320.67,82.92 321.40,81.98 322.12,81.12 322.85,80.32 323.58,79.58 324.31,78.90 325.03,78.26 325.76,77.67 326.49,77.12 327.22,76.60 327.94,76.12 328.67,75.66 329.40,75.23 330.12,74.83 330.85,74.45 331.58,74.09 332.31,73.75 333.04,73.42 333.76,73.11 334.49,72.81 335.22,72.53 335.94,72.26 336.67,72.00 337.40,71.75 338.13,71.51 338.86,71.28 339.58,71.06 340.31,70.85 341.04,70.65 341.76,70.45 342.49,70.26 343.22,70.07 343.95,69.89 344.68,69.72 345.40,69.55 346.13,69.39 346.86,69.23 347.59,69.07 348.31,68.92 349.04,68.78 349.77,68.64 350.50,68.50 351.22,68.37 351.95,68.24 352.39,68.75 353.11,69.24 353.84,69.47 354.57,69.58 355.30,69.63 356.02,69.65 356.75,69.65 357.48,69.65 358.21,69.65 358.93,69.64 359.66,69.63 360.39,69.63 361.12,69.62 361.84,69.61 362.57,69.60 363.30,69.59 364.03,69.59 364.75,69.58 365.48,69.57 366.21,69.56 366.94,69.55 367.66,69.54 368.39,69.54 369.12,69.53 369.85,69.52 370.57,69.51 371.30,69.50 372.03,69.49 372.76,69.49 373.48,69.48 374.21,69.47 374.94,69.46 375.67,69.45 376.39,69.45 377.12,69.44 377.85,69.43 378.58,69.42 379.30,69.41 380.03,69.40 380.76,69.40 381.49,69.39 382.21,69.38 382.94,69.37 383.67,69.36 384.40,69.35 385.12,69.35 385.85,69.34 386.58,69.33 387.31,69.32 388.03,69.31 388.76,69.31 389.49,69.30 390.22,69.29 390.94,69.28 391.67,69.27 392.40,69.26 393.13,69.26 393.85,69.25 394.58,69.24 395.31,69.23" fill="none" stroke="#2f5e21" stroke-width="2.0" stroke-linejoin="round"/>
<circle cx="346.20" cy="60.00" r="1.5" fill="#14e614"/>
<line x1="349.20" y1="59.40" x2="390.70" y2="59.40" stroke="#ee6d73" stroke-width="1.3" />
<line x1="349.70" y1="56.40" x2="364.60" y2="56.40" stroke="#2cc4e0" stroke-width="1.3" />
<path d="M-3.20,6.10 L-3.20,-6.10 Q-1.04,-3.17 1.11,-6.10 L1.86,-4.78 L3.20,-4.59 L3.20,6.10 Z" fill="#c2c2c2" transform="translate(364.00,48.20) rotate(-20)"/>
<text x="408.00" y="17.80" font-size="16.2" fill="#111" font-weight="bold">d</text>
<line x1="438.20" y1="26.00" x2="438.20" y2="137.60" stroke="#222" stroke-width="1.3" />
<line x1="433.80" y1="26.60" x2="438.20" y2="26.60" stroke="#222" stroke-width="1.2" />
<text transform="translate(432.20,29.60) scale(1,1.08)" font-size="8.4" fill="#383838" text-anchor="end" font-weight="normal" stroke="#383838" stroke-width="0.12">0.8</text>
<line x1="433.80" y1="51.25" x2="438.20" y2="51.25" stroke="#222" stroke-width="1.2" />
<text transform="translate(432.20,54.25) scale(1,1.08)" font-size="8.4" fill="#383838" text-anchor="end" font-weight="normal" stroke="#383838" stroke-width="0.12">0.6</text>
<line x1="433.80" y1="75.90" x2="438.20" y2="75.90" stroke="#222" stroke-width="1.2" />
<text transform="translate(432.20,78.90) scale(1,1.08)" font-size="8.4" fill="#383838" text-anchor="end" font-weight="normal" stroke="#383838" stroke-width="0.12">0.4</text>
<line x1="433.80" y1="100.55" x2="438.20" y2="100.55" stroke="#222" stroke-width="1.2" />
<text transform="translate(432.20,103.55) scale(1,1.08)" font-size="8.4" fill="#383838" text-anchor="end" font-weight="normal" stroke="#383838" stroke-width="0.12">0.2</text>
<line x1="433.80" y1="125.20" x2="438.20" y2="125.20" stroke="#222" stroke-width="1.2" />
<text transform="translate(432.20,128.20) scale(1,1.08)" font-size="8.4" fill="#383838" text-anchor="end" font-weight="normal" stroke="#383838" stroke-width="0.12">0.0</text>
<line x1="481.90" y1="125.20" x2="481.90" y2="130.20" stroke="#222" stroke-width="1.2" />
<text transform="translate(481.90,138.50) scale(1,1.08)" font-size="8.5" fill="#383838" text-anchor="middle" font-weight="normal" stroke="#383838" stroke-width="0.12">300</text>
<line x1="525.60" y1="125.20" x2="525.60" y2="130.20" stroke="#222" stroke-width="1.2" />
<text transform="translate(525.60,138.50) scale(1,1.08)" font-size="8.5" fill="#383838" text-anchor="middle" font-weight="normal" stroke="#383838" stroke-width="0.12">600</text>
<text transform="translate(482.20,153.00) scale(1,1.08)" font-size="9.3" fill="#2a2a2a" text-anchor="middle" font-weight="normal" stroke="#2a2a2a" stroke-width="0.3">Time (s)</text>
<text transform="translate(415.20,82.10) rotate(-90) scale(1,1.06)" font-size="9.2" fill="#333" stroke="#333" stroke-width="0.25" text-anchor="middle">Response unit (nm)</text>
<text transform="translate(445.80,33.40) scale(1,1.08)" font-size="9.2" fill="#222" stroke="#222" stroke-width="0.15" textLength="75.2" lengthAdjust="spacingAndGlyphs">3T+L2: K<tspan font-size="5.06" dy="1.3">D</tspan><tspan dy="-1.3"> = 420 nM</tspan></text>
<polyline points="438.20,125.20 439.37,124.77 440.53,124.36 441.70,123.98 442.86,123.62 444.03,123.27 445.19,122.95 446.36,122.64 447.52,122.35 448.69,122.08 449.85,121.82 451.02,121.57 452.18,121.34 453.35,121.12 454.51,120.91 455.68,120.72 456.85,120.53 458.01,120.36 459.18,120.19 460.34,120.03 461.51,119.89 462.67,119.75 463.84,119.61 465.00,119.49 466.17,119.37 467.33,119.26 468.50,119.15 469.66,119.05 470.83,118.96 471.99,118.87 473.16,118.78 474.33,118.70 475.49,118.63 476.66,118.55 477.82,118.49 478.99,118.42 480.15,118.36 481.32,118.31 482.48,118.25 483.65,118.20 484.81,118.15 485.98,118.11 487.14,118.06 488.31,118.02 489.47,117.98 490.64,117.95 491.81,117.91 492.97,117.88 494.14,117.85 495.30,117.82 496.47,117.79 497.63,117.77 498.80,117.74 499.96,117.72 501.13,117.70 502.29,117.67 503.46,117.65 504.62,117.64 505.79,117.62 506.95,117.60 508.12,117.59 509.29,117.57 510.45,117.56 511.62,117.54 512.78,117.53 513.95,117.52 515.11,117.51 516.28,117.50 517.44,117.49 518.61,117.48 519.77,117.47 520.94,117.46 522.10,117.45 523.27,117.44 524.43,117.44 525.60,117.43" fill="none" stroke="#a0a0a0" stroke-width="0.75"/>
<polyline points="438.20,125.20 439.37,124.14 440.53,123.14 441.70,122.19 442.86,121.29 444.03,120.44 445.19,119.64 446.36,118.88 447.52,118.17 448.69,117.49 449.85,116.85 451.02,116.24 452.18,115.67 453.35,115.13 454.51,114.62 455.68,114.13 456.85,113.68 458.01,113.24 459.18,112.83 460.34,112.45 461.51,112.08 462.67,111.73 463.84,111.41 465.00,111.10 466.17,110.81 467.33,110.53 468.50,110.27 469.66,110.02 470.83,109.79 471.99,109.56 473.16,109.36 474.33,109.16 475.49,108.97 476.66,108.79 477.82,108.63 478.99,108.47 480.15,108.32 481.32,108.18 482.48,108.05 483.65,107.92 484.81,107.80 485.98,107.69 487.14,107.58 488.31,107.48 489.47,107.38 490.64,107.29 491.81,107.21 492.97,107.13 494.14,107.05 495.30,106.98 496.47,106.91 497.63,106.85 498.80,106.79 499.96,106.73 501.13,106.67 502.29,106.62 503.46,106.57 504.62,106.53 505.79,106.48 506.95,106.44 508.12,106.40 509.29,106.37 510.45,106.33 511.62,106.30 512.78,106.27 513.95,106.24 515.11,106.21 516.28,106.18 517.44,106.16 518.61,106.14 519.77,106.11 520.94,106.09 522.10,106.07 523.27,106.05 524.43,106.04 525.60,106.02" fill="none" stroke="#a0a0a0" stroke-width="0.75"/>
<polyline points="438.20,125.20 439.37,119.84 440.53,115.52 441.70,112.00 442.86,109.12 444.03,106.72 445.19,104.70 446.36,102.98 447.52,101.50 448.69,100.21 449.85,99.08 451.02,98.08 452.18,97.18 453.35,96.37 454.51,95.64 455.68,94.97 456.85,94.35 458.01,93.79 459.18,93.26 460.34,92.78 461.51,92.33 462.67,91.91 463.84,91.52 465.00,91.16 466.17,90.82 467.33,90.50 468.50,90.21 469.66,89.93 470.83,89.67 471.99,89.42 473.16,89.20 474.33,88.98 475.49,88.78 476.66,88.59 477.82,88.42 478.99,88.25 480.15,88.10 481.32,87.95 482.48,87.82 483.65,87.69 484.81,87.57 485.98,87.46 487.14,87.35 488.31,87.25 489.47,87.16 490.64,87.07 491.81,86.99 492.97,86.92 494.14,86.84 495.30,86.78 496.47,86.71 497.63,86.66 498.80,86.60 499.96,86.55 501.13,86.50 502.29,86.45 503.46,86.41 504.62,86.37 505.79,86.33 506.95,86.30 508.12,86.26 509.29,86.23 510.45,86.20 511.62,86.18 512.78,86.15 513.95,86.13 515.11,86.10 516.28,86.08 517.44,86.06 518.61,86.04 519.77,86.03 520.94,86.01 522.10,85.99 523.27,85.98 524.43,85.97 525.60,85.95" fill="none" stroke="#a0a0a0" stroke-width="0.75"/>
<polyline points="438.20,125.20 439.37,125.07 440.53,124.95 441.70,124.84 442.86,124.73 444.03,124.62 445.19,124.52 446.36,124.43 447.52,124.34 448.69,124.25 449.85,124.17 451.02,124.09 452.18,124.01 453.35,123.94 454.51,123.87 455.68,123.81 456.85,123.75 458.01,123.69 459.18,123.63 460.34,123.58 461.51,123.53 462.67,123.48 463.84,123.43 465.00,123.39 466.17,123.35 467.33,123.31 468.50,123.27 469.66,123.23 470.83,123.20 471.99,123.16 473.16,123.13 474.33,123.10 475.49,123.07 476.66,123.04 477.82,123.02 478.99,122.99 480.15,122.97 481.32,122.95 482.48,122.93 483.65,122.91 484.81,122.89 485.98,122.87 487.14,122.85 488.31,122.83 489.47,122.82 490.64,122.80 491.81,122.79 492.97,122.77 494.14,122.76 495.30,122.75 496.47,122.73 497.63,122.72 498.80,122.71 499.96,122.70 501.13,122.69 502.29,122.68 503.46,122.67 504.62,122.66 505.79,122.66 506.95,122.65 508.12,122.64 509.29,122.63 510.45,122.63 511.62,122.62 512.78,122.61 513.95,122.61 515.11,122.60 516.28,122.60 517.44,122.59 518.61,122.59 519.77,122.58 520.94,122.58 522.10,122.57 523.27,122.57 524.43,122.57 525.60,122.56" fill="none" stroke="#a0a0a0" stroke-width="0.75"/>
<polyline points="438.20,125.20 438.93,125.17 439.66,125.14 440.38,125.11 441.11,125.09 441.84,125.06 442.57,125.04 443.30,125.02 444.03,125.00 444.75,124.98 445.48,124.96 446.21,124.94 446.94,124.92 447.67,124.91 448.40,124.89 449.12,124.87 449.85,124.86 450.58,124.85 451.31,124.83 452.04,124.82 452.77,124.81 453.50,124.80 454.22,124.79 454.95,124.78 455.68,124.77 456.41,124.76 457.14,124.75 457.87,124.74 458.59,124.74 459.32,124.73 460.05,124.72 460.78,124.71 461.51,124.71 462.24,124.70 462.96,124.70 463.69,124.69 464.42,124.69 465.15,124.68 465.88,124.68 466.61,124.67 467.33,124.67 468.06,124.66 468.79,124.66 469.52,124.66 470.25,124.65 470.98,124.65 471.70,124.65 472.43,124.64 473.16,124.64 473.89,124.64 474.62,124.63 475.35,124.63 476.07,124.63 476.80,124.63 477.53,124.63 478.26,124.62 478.99,124.62 479.72,124.62 480.44,124.62 481.17,124.62 481.90,124.61 482.34,124.61 483.07,124.61 483.79,124.61 484.52,124.61 485.25,124.61 485.98,124.61 486.71,124.61 487.44,124.61 488.16,124.61 488.89,124.61 489.62,124.61 490.35,124.61 491.08,124.61 491.81,124.61 492.53,124.61 493.26,124.61 493.99,124.61 494.72,124.61 495.45,124.61 496.18,124.61 496.90,124.61 497.63,124.61 498.36,124.61 499.09,124.61 499.82,124.61 500.55,124.61 501.27,124.61 502.00,124.61 502.73,124.61 503.46,124.61 504.19,124.61 504.92,124.61 505.64,124.61 506.37,124.61 507.10,124.61 507.83,124.61 508.56,124.61 509.29,124.61 510.01,124.61 510.74,124.61 511.47,124.61 512.20,124.61 512.93,124.61 513.66,124.61 514.38,124.61 515.11,124.61 515.84,124.61 516.57,124.61 517.30,124.61 518.03,124.61 518.75,124.61 519.48,124.61 520.21,124.61 520.94,124.61 521.67,124.61 522.40,124.61 523.12,124.61 523.85,124.61 524.58,124.61 525.31,124.61" fill="none" stroke="#cfcfcf" stroke-width="1.2" stroke-linejoin="round"/>
<polyline points="438.20,125.20 438.93,125.16 439.66,125.11 440.38,125.07 441.11,125.03 441.84,124.99 442.57,124.96 443.30,124.92 444.03,124.88 444.75,124.85 445.48,124.82 446.21,124.78 446.94,124.75 447.67,124.72 448.40,124.69 449.12,124.66 449.85,124.64 450.58,124.61 451.31,124.58 452.04,124.56 452.77,124.53 453.50,124.51 454.22,124.49 454.95,124.46 455.68,124.44 456.41,124.42 457.14,124.40 457.87,124.38 458.59,124.36 459.32,124.34 460.05,124.32 460.78,124.30 461.51,124.29 462.24,124.27 462.96,124.25 463.69,124.24 464.42,124.22 465.15,124.21 465.88,124.19 466.61,124.18 467.33,124.17 468.06,124.15 468.79,124.14 469.52,124.13 470.25,124.12 470.98,124.10 471.70,124.09 472.43,124.08 473.16,124.07 473.89,124.06 474.62,124.05 475.35,124.04 476.07,124.03 476.80,124.02 477.53,124.01 478.26,124.01 478.99,124.00 479.72,123.99 480.44,123.98 481.17,123.97 481.90,123.97 482.34,123.96 483.07,123.96 483.79,123.95 484.52,123.95 485.25,123.95 485.98,123.94 486.71,123.94 487.44,123.93 488.16,123.93 488.89,123.93 489.62,123.92 490.35,123.92 491.08,123.91 491.81,123.91 492.53,123.91 493.26,123.90 493.99,123.90 494.72,123.89 495.45,123.89 496.18,123.88 496.90,123.88 497.63,123.88 498.36,123.87 499.09,123.87 499.82,123.86 500.55,123.86 501.27,123.86 502.00,123.85 502.73,123.85 503.46,123.84 504.19,123.84 504.92,123.84 505.64,123.83 506.37,123.83 507.10,123.82 507.83,123.82 508.56,123.82 509.29,123.81 510.01,123.81 510.74,123.80 511.47,123.80 512.20,123.79 512.93,123.79 513.66,123.79 514.38,123.78 515.11,123.78 515.84,123.77 516.57,123.77 517.30,123.77 518.03,123.76 518.75,123.76 519.48,123.75 520.21,123.75 520.94,123.75 521.67,123.74 522.40,123.74 523.12,123.73 523.85,123.73 524.58,123.72 525.31,123.72" fill="none" stroke="#bde3aa" stroke-width="1.5" stroke-linejoin="round"/>
<polyline points="438.20,125.20 438.93,125.13 439.66,125.06 440.38,124.99 441.11,124.92 441.84,124.86 442.57,124.79 443.30,124.73 444.03,124.67 444.75,124.62 445.48,124.56 446.21,124.51 446.94,124.45 447.67,124.40 448.40,124.35 449.12,124.31 449.85,124.26 450.58,124.22 451.31,124.17 452.04,124.13 452.77,124.09 453.50,124.05 454.22,124.01 454.95,123.97 455.68,123.93 456.41,123.90 457.14,123.86 457.87,123.83 458.59,123.80 459.32,123.77 460.05,123.74 460.78,123.71 461.51,123.68 462.24,123.65 462.96,123.62 463.69,123.60 464.42,123.57 465.15,123.55 465.88,123.52 466.61,123.50 467.33,123.48 468.06,123.46 468.79,123.43 469.52,123.41 470.25,123.39 470.98,123.37 471.70,123.36 472.43,123.34 473.16,123.32 473.89,123.30 474.62,123.29 475.35,123.27 476.07,123.25 476.80,123.24 477.53,123.22 478.26,123.21 478.99,123.19 479.72,123.18 480.44,123.17 481.17,123.15 481.90,123.14 482.34,123.14 483.07,123.14 483.79,123.14 484.52,123.14 485.25,123.14 485.98,123.14 486.71,123.14 487.44,123.14 488.16,123.14 488.89,123.14 489.62,123.14 490.35,123.14 491.08,123.14 491.81,123.14 492.53,123.14 493.26,123.14 493.99,123.14 494.72,123.14 495.45,123.14 496.18,123.14 496.90,123.14 497.63,123.14 498.36,123.14 499.09,123.14 499.82,123.14 500.55,123.14 501.27,123.14 502.00,123.14 502.73,123.14 503.46,123.14 504.19,123.14 504.92,123.14 505.64,123.14 506.37,123.14 507.10,123.14 507.83,123.14 508.56,123.14 509.29,123.14 510.01,123.14 510.74,123.14 511.47,123.14 512.20,123.14 512.93,123.14 513.66,123.14 514.38,123.14 515.11,123.14 515.84,123.14 516.57,123.14 517.30,123.14 518.03,123.14 518.75,123.14 519.48,123.14 520.21,123.14 520.94,123.14 521.67,123.14 522.40,123.14 523.12,123.14 523.85,123.14 524.58,123.14 525.31,123.14" fill="none" stroke="#6acb3c" stroke-width="1.5" stroke-linejoin="round"/>
<polyline points="438.20,125.20 438.93,125.04 439.66,124.88 440.38,124.72 441.11,124.57 441.84,124.43 442.57,124.29 443.30,124.15 444.03,124.02 444.75,123.89 445.48,123.76 446.21,123.64 446.94,123.52 447.67,123.41 448.40,123.30 449.12,123.19 449.85,123.09 450.58,122.98 451.31,122.89 452.04,122.79 452.77,122.70 453.50,122.61 454.22,122.52 454.95,122.44 455.68,122.35 456.41,122.27 457.14,122.20 457.87,122.12 458.59,122.05 459.32,121.98 460.05,121.91 460.78,121.84 461.51,121.78 462.24,121.71 462.96,121.65 463.69,121.59 464.42,121.54 465.15,121.48 465.88,121.43 466.61,121.38 467.33,121.32 468.06,121.27 468.79,121.23 469.52,121.18 470.25,121.14 470.98,121.09 471.70,121.05 472.43,121.01 473.16,120.97 473.89,120.93 474.62,120.89 475.35,120.85 476.07,120.82 476.80,120.78 477.53,120.75 478.26,120.72 478.99,120.69 479.72,120.66 480.44,120.63 481.17,120.60 481.90,120.57 482.34,120.74 483.07,120.91 483.79,120.99 484.52,121.03 485.25,121.05 485.98,121.05 486.71,121.06 487.44,121.06 488.16,121.06 488.89,121.06 489.62,121.06 490.35,121.06 491.08,121.06 491.81,121.06 492.53,121.06 493.26,121.06 493.99,121.06 494.72,121.06 495.45,121.06 496.18,121.06 496.90,121.06 497.63,121.06 498.36,121.06 499.09,121.06 499.82,121.06 500.55,121.06 501.27,121.06 502.00,121.06 502.73,121.06 503.46,121.06 504.19,121.06 504.92,121.06 505.64,121.06 506.37,121.06 507.10,121.06 507.83,121.06 508.56,121.06 509.29,121.06 510.01,121.06 510.74,121.06 511.47,121.06 512.20,121.06 512.93,121.06 513.66,121.06 514.38,121.06 515.11,121.06 515.84,121.06 516.57,121.06 517.30,121.06 518.03,121.06 518.75,121.06 519.48,121.06 520.21,121.06 520.94,121.06 521.67,121.06 522.40,121.06 523.12,121.06 523.85,121.06 524.58,121.06 525.31,121.06" fill="none" stroke="#48a52c" stroke-width="1.5" stroke-linejoin="round"/>
<polyline points="438.20,125.20 438.93,123.69 439.66,122.35 440.38,121.17 441.11,120.12 441.84,119.17 442.57,118.30 443.30,117.52 444.03,116.79 444.75,116.13 445.48,115.51 446.21,114.93 446.94,114.38 447.67,113.87 448.40,113.38 449.12,112.92 449.85,112.48 450.58,112.06 451.31,111.66 452.04,111.28 452.77,110.91 453.50,110.55 454.22,110.21 454.95,109.88 455.68,109.56 456.41,109.25 457.14,108.95 457.87,108.66 458.59,108.38 459.32,108.11 460.05,107.85 460.78,107.59 461.51,107.35 462.24,107.11 462.96,106.88 463.69,106.65 464.42,106.44 465.15,106.23 465.88,106.02 466.61,105.82 467.33,105.63 468.06,105.44 468.79,105.26 469.52,105.09 470.25,104.92 470.98,104.75 471.70,104.59 472.43,104.43 473.16,104.28 473.89,104.14 474.62,103.99 475.35,103.85 476.07,103.72 476.80,103.59 477.53,103.46 478.26,103.34 478.99,103.22 479.72,103.11 480.44,103.00 481.17,102.89 481.90,102.78 482.34,103.12 483.07,103.45 483.79,103.61 484.52,103.69 485.25,103.73 485.98,103.75 486.71,103.76 487.44,103.76 488.16,103.76 488.89,103.77 489.62,103.77 490.35,103.77 491.08,103.77 491.81,103.77 492.53,103.77 493.26,103.77 493.99,103.77 494.72,103.77 495.45,103.77 496.18,103.77 496.90,103.77 497.63,103.77 498.36,103.77 499.09,103.77 499.82,103.77 500.55,103.77 501.27,103.77 502.00,103.77 502.73,103.77 503.46,103.77 504.19,103.77 504.92,103.77 505.64,103.77 506.37,103.77 507.10,103.77 507.83,103.77 508.56,103.77 509.29,103.77 510.01,103.77 510.74,103.77 511.47,103.77 512.20,103.77 512.93,103.77 513.66,103.77 514.38,103.77 515.11,103.77 515.84,103.77 516.57,103.77 517.30,103.77 518.03,103.77 518.75,103.77 519.48,103.77 520.21,103.77 520.94,103.77 521.67,103.77 522.40,103.77 523.12,103.77 523.85,103.77 524.58,103.77 525.31,103.77" fill="none" stroke="#387f24" stroke-width="1.8" stroke-linejoin="round"/>
<polyline points="438.20,125.20 438.93,121.17 439.66,117.69 440.38,114.68 441.11,112.07 441.84,109.80 442.57,107.80 443.30,106.05 444.03,104.50 444.75,103.12 445.48,101.89 446.21,100.78 446.94,99.79 447.67,98.88 448.40,98.05 449.12,97.29 449.85,96.58 450.58,95.93 451.31,95.32 452.04,94.75 452.77,94.21 453.50,93.70 454.22,93.22 454.95,92.76 455.68,92.33 456.41,91.91 457.14,91.51 457.87,91.12 458.59,90.75 459.32,90.40 460.05,90.05 460.78,89.72 461.51,89.39 462.24,89.08 462.96,88.78 463.69,88.48 464.42,88.20 465.15,87.92 465.88,87.65 466.61,87.38 467.33,87.13 468.06,86.88 468.79,86.63 469.52,86.40 470.25,86.17 470.98,85.94 471.70,85.72 472.43,85.51 473.16,85.30 473.89,85.10 474.62,84.90 475.35,84.71 476.07,84.52 476.80,84.34 477.53,84.16 478.26,83.99 478.99,83.82 479.72,83.65 480.44,83.49 481.17,83.34 481.90,83.18 482.34,84.13 483.07,85.03 483.79,85.47 484.52,85.69 485.25,85.79 485.98,85.85 486.71,85.87 487.44,85.88 488.16,85.89 488.89,85.89 489.62,85.89 490.35,85.89 491.08,85.89 491.81,85.89 492.53,85.89 493.26,85.89 493.99,85.89 494.72,85.89 495.45,85.89 496.18,85.89 496.90,85.89 497.63,85.89 498.36,85.89 499.09,85.89 499.82,85.89 500.55,85.89 501.27,85.89 502.00,85.89 502.73,85.89 503.46,85.89 504.19,85.89 504.92,85.89 505.64,85.89 506.37,85.89 507.10,85.89 507.83,85.89 508.56,85.89 509.29,85.89 510.01,85.89 510.74,85.89 511.47,85.89 512.20,85.89 512.93,85.89 513.66,85.89 514.38,85.89 515.11,85.89 515.84,85.89 516.57,85.89 517.30,85.89 518.03,85.89 518.75,85.89 519.48,85.89 520.21,85.89 520.94,85.89 521.67,85.89 522.40,85.89 523.12,85.89 523.85,85.89 524.58,85.89 525.31,85.89" fill="none" stroke="#2f5e21" stroke-width="2.0" stroke-linejoin="round"/>
<circle cx="476.20" cy="58.80" r="1.5" fill="#14e614"/>
<line x1="479.80" y1="58.20" x2="521.20" y2="58.20" stroke="#ee6d73" stroke-width="1.3" />
<line x1="505.80" y1="54.60" x2="521.20" y2="54.60" stroke="#3b9fd0" stroke-width="1.3" />
<path d="M-3.00,5.70 L-3.00,-5.70 Q-0.98,-2.96 1.04,-5.70 L1.74,-4.47 L3.00,-4.29 L3.00,5.70 Z" fill="#c2c2c2" transform="translate(504.70,47.00) rotate(0)"/>
<text x="540.60" y="18.90" font-size="16.2" fill="#111" font-weight="bold">e</text>
<line x1="575.00" y1="25.80" x2="575.00" y2="137.40" stroke="#222" stroke-width="1.3" />
<line x1="570.60" y1="26.40" x2="575.00" y2="26.40" stroke="#222" stroke-width="1.2" />
<text transform="translate(569.00,29.40) scale(1,1.08)" font-size="8.4" fill="#383838" text-anchor="end" font-weight="normal" stroke="#383838" stroke-width="0.12">0.8</text>
<line x1="570.60" y1="50.95" x2="575.00" y2="50.95" stroke="#222" stroke-width="1.2" />
<text transform="translate(569.00,53.95) scale(1,1.08)" font-size="8.4" fill="#383838" text-anchor="end" font-weight="normal" stroke="#383838" stroke-width="0.12">0.6</text>
<line x1="570.60" y1="75.50" x2="575.00" y2="75.50" stroke="#222" stroke-width="1.2" />
<text transform="translate(569.00,78.50) scale(1,1.08)" font-size="8.4" fill="#383838" text-anchor="end" font-weight="normal" stroke="#383838" stroke-width="0.12">0.4</text>
<line x1="570.60" y1="100.05" x2="575.00" y2="100.05" stroke="#222" stroke-width="1.2" />
<text transform="translate(569.00,103.05) scale(1,1.08)" font-size="8.4" fill="#383838" text-anchor="end" font-weight="normal" stroke="#383838" stroke-width="0.12">0.2</text>
<line x1="570.60" y1="124.60" x2="575.00" y2="124.60" stroke="#222" stroke-width="1.2" />
<text transform="translate(569.00,127.60) scale(1,1.08)" font-size="8.4" fill="#383838" text-anchor="end" font-weight="normal" stroke="#383838" stroke-width="0.12">0.0</text>
<line x1="618.50" y1="124.60" x2="618.50" y2="129.60" stroke="#222" stroke-width="1.2" />
<text transform="translate(618.50,137.90) scale(1,1.08)" font-size="8.5" fill="#383838" text-anchor="middle" font-weight="normal" stroke="#383838" stroke-width="0.12">300</text>
<line x1="662.00" y1="124.60" x2="662.00" y2="129.60" stroke="#222" stroke-width="1.2" />
<text transform="translate(662.00,137.90) scale(1,1.08)" font-size="8.5" fill="#383838" text-anchor="middle" font-weight="normal" stroke="#383838" stroke-width="0.12">600</text>
<text transform="translate(618.80,152.40) scale(1,1.08)" font-size="9.3" fill="#2a2a2a" text-anchor="middle" font-weight="normal" stroke="#2a2a2a" stroke-width="0.3">Time (s)</text>
<text transform="translate(552.00,81.90) rotate(-90) scale(1,1.06)" font-size="9.2" fill="#333" stroke="#333" stroke-width="0.25" text-anchor="middle">Response unit (nm)</text>
<text transform="translate(581.60,33.50) scale(1,1.08)" font-size="9.2" fill="#222" stroke="#222" stroke-width="0.15" textLength="91.7" lengthAdjust="spacingAndGlyphs">3T+L1+L2: K<tspan font-size="5.06" dy="1.3">D</tspan><tspan dy="-1.3"> = 90.5 nM</tspan></text>
<polyline points="575.00,124.60 576.16,124.02 577.32,123.48 578.48,122.95 579.64,122.46 580.80,121.98 581.96,121.53 583.12,121.10 584.28,120.69 585.44,120.29 586.60,119.92 587.76,119.56 588.92,119.23 590.08,118.90 591.24,118.59 592.40,118.30 593.56,118.02 594.72,117.75 595.88,117.50 597.04,117.26 598.20,117.03 599.36,116.80 600.52,116.59 601.68,116.39 602.84,116.20 604.00,116.02 605.16,115.85 606.32,115.68 607.48,115.53 608.64,115.38 609.80,115.23 610.96,115.10 612.12,114.97 613.28,114.84 614.44,114.73 615.60,114.61 616.76,114.51 617.92,114.40 619.08,114.31 620.24,114.21 621.40,114.12 622.56,114.04 623.72,113.96 624.88,113.88 626.04,113.81 627.20,113.74 628.36,113.67 629.52,113.61 630.68,113.55 631.84,113.49 633.00,113.44 634.16,113.39 635.32,113.34 636.48,113.29 637.64,113.24 638.80,113.20 639.96,113.16 641.12,113.12 642.28,113.08 643.44,113.05 644.60,113.01 645.76,112.98 646.92,112.95 648.08,112.92 649.24,112.89 650.40,112.87 651.56,112.84 652.72,112.82 653.88,112.79 655.04,112.77 656.20,112.75 657.36,112.73 658.52,112.71 659.68,112.69 660.84,112.68 662.00,112.66" fill="none" stroke="#a0a0a0" stroke-width="0.75"/>
<polyline points="575.00,124.60 576.16,123.25 577.32,121.96 578.48,120.73 579.64,119.56 580.80,118.45 581.96,117.38 583.12,116.37 584.28,115.40 585.44,114.48 586.60,113.60 587.76,112.77 588.92,111.97 590.08,111.21 591.24,110.49 592.40,109.79 593.56,109.14 594.72,108.51 595.88,107.91 597.04,107.34 598.20,106.80 599.36,106.28 600.52,105.79 601.68,105.32 602.84,104.87 604.00,104.44 605.16,104.03 606.32,103.65 607.48,103.28 608.64,102.92 609.80,102.59 610.96,102.27 612.12,101.96 613.28,101.67 614.44,101.39 615.60,101.13 616.76,100.88 617.92,100.64 619.08,100.41 620.24,100.19 621.40,99.98 622.56,99.78 623.72,99.60 624.88,99.42 626.04,99.24 627.20,99.08 628.36,98.92 629.52,98.78 630.68,98.63 631.84,98.50 633.00,98.37 634.16,98.25 635.32,98.13 636.48,98.02 637.64,97.91 638.80,97.81 639.96,97.72 641.12,97.62 642.28,97.54 643.44,97.45 644.60,97.37 645.76,97.30 646.92,97.22 648.08,97.16 649.24,97.09 650.40,97.03 651.56,96.97 652.72,96.91 653.88,96.86 655.04,96.81 656.20,96.76 657.36,96.71 658.52,96.66 659.68,96.62 660.84,96.58 662.00,96.54" fill="none" stroke="#a0a0a0" stroke-width="0.75"/>
<polyline points="575.00,124.60 576.16,119.74 577.32,115.29 578.48,111.21 579.64,107.48 580.80,104.06 581.96,100.93 583.12,98.07 584.28,95.44 585.44,93.04 586.60,90.84 587.76,88.82 588.92,86.98 590.08,85.29 591.24,83.74 592.40,82.32 593.56,81.02 594.72,79.83 595.88,78.74 597.04,77.75 598.20,76.83 599.36,76.00 600.52,75.23 601.68,74.53 602.84,73.89 604.00,73.30 605.16,72.76 606.32,72.27 607.48,71.82 608.64,71.40 609.80,71.02 610.96,70.68 612.12,70.36 613.28,70.07 614.44,69.80 615.60,69.56 616.76,69.34 617.92,69.13 619.08,68.94 620.24,68.77 621.40,68.62 622.56,68.47 623.72,68.34 624.88,68.22 626.04,68.11 627.20,68.01 628.36,67.91 629.52,67.83 630.68,67.75 631.84,67.68 633.00,67.62 634.16,67.56 635.32,67.50 636.48,67.45 637.64,67.41 638.80,67.36 639.96,67.33 641.12,67.29 642.28,67.26 643.44,67.23 644.60,67.20 645.76,67.18 646.92,67.15 648.08,67.13 649.24,67.11 650.40,67.10 651.56,67.08 652.72,67.07 653.88,67.05 655.04,67.04 656.20,67.03 657.36,67.02 658.52,67.01 659.68,67.00 660.84,66.99 662.00,66.99" fill="none" stroke="#a0a0a0" stroke-width="0.75"/>
<polyline points="575.00,124.60 576.16,108.23 577.32,94.94 578.48,84.14 579.64,75.37 580.80,68.25 581.96,62.47 583.12,57.77 584.28,53.95 585.44,50.85 586.60,48.34 587.76,46.29 588.92,44.63 590.08,43.28 591.24,42.19 592.40,41.30 593.56,40.57 594.72,39.99 595.88,39.51 597.04,39.12 598.20,38.81 599.36,38.55 600.52,38.34 601.68,38.18 602.84,38.04 604.00,37.93 605.16,37.84 606.32,37.76 607.48,37.71 608.64,37.66 609.80,37.62 610.96,37.59 612.12,37.56 613.28,37.54 614.44,37.52 615.60,37.51 616.76,37.50 617.92,37.49 619.08,37.48 620.24,37.47 621.40,37.47 622.56,37.46 623.72,37.46 624.88,37.46 626.04,37.46 627.20,37.46 628.36,37.45 629.52,37.45 630.68,37.45 631.84,37.45 633.00,37.45 634.16,37.45 635.32,37.45 636.48,37.45 637.64,37.45 638.80,37.45 639.96,37.45 641.12,37.45 642.28,37.45 643.44,37.45 644.60,37.45 645.76,37.45 646.92,37.45 648.08,37.45 649.24,37.45 650.40,37.45 651.56,37.45 652.72,37.45 653.88,37.45 655.04,37.45 656.20,37.45 657.36,37.45 658.52,37.45 659.68,37.45 660.84,37.45 662.00,37.45" fill="none" stroke="#a0a0a0" stroke-width="0.75"/>
<polyline points="575.00,124.60 576.16,124.42 577.32,124.24 578.48,124.07 579.64,123.91 580.80,123.76 581.96,123.62 583.12,123.48 584.28,123.35 585.44,123.22 586.60,123.10 587.76,122.99 588.92,122.88 590.08,122.78 591.24,122.68 592.40,122.58 593.56,122.49 594.72,122.41 595.88,122.33 597.04,122.25 598.20,122.18 599.36,122.11 600.52,122.04 601.68,121.97 602.84,121.91 604.00,121.86 605.16,121.80 606.32,121.75 607.48,121.70 608.64,121.65 609.80,121.60 610.96,121.56 612.12,121.52 613.28,121.48 614.44,121.44 615.60,121.40 616.76,121.37 617.92,121.34 619.08,121.31 620.24,121.28 621.40,121.25 622.56,121.22 623.72,121.20 624.88,121.17 626.04,121.15 627.20,121.12 628.36,121.10 629.52,121.08 630.68,121.06 631.84,121.05 633.00,121.03 634.16,121.01 635.32,121.00 636.48,120.98 637.64,120.97 638.80,120.95 639.96,120.94 641.12,120.93 642.28,120.91 643.44,120.90 644.60,120.89 645.76,120.88 646.92,120.87 648.08,120.86 649.24,120.85 650.40,120.85 651.56,120.84 652.72,120.83 653.88,120.82 655.04,120.82 656.20,120.81 657.36,120.80 658.52,120.80 659.68,120.79 660.84,120.78 662.00,120.78" fill="none" stroke="#a0a0a0" stroke-width="0.75"/>
<line x1="575.00" y1="124.60" x2="662.00" y2="124.60" stroke="#4a4a4a" stroke-width="1.4" />
<polyline points="575.00,124.60 575.73,124.64 576.45,124.69 577.17,124.73 577.90,124.78 578.62,124.82 579.35,124.86 580.08,124.91 580.80,124.95 581.52,124.99 582.25,125.04 582.98,125.08 583.70,125.12 584.42,125.17 585.15,125.21 585.88,125.25 586.60,125.29 587.33,125.34 588.05,125.38 588.77,125.42 589.50,125.46 590.23,125.50 590.95,125.55 591.67,125.59 592.40,125.63 593.12,125.67 593.85,125.71 594.58,125.75 595.30,125.80 596.02,125.84 596.75,125.88 597.48,125.92 598.20,125.96 598.92,126.00 599.65,126.04 600.38,126.08 601.10,126.12 601.83,126.16 602.55,126.20 603.27,126.24 604.00,126.28 604.73,126.32 605.45,126.36 606.17,126.40 606.90,126.44 607.62,126.48 608.35,126.52 609.08,126.56 609.80,126.60 610.52,126.64 611.25,126.68 611.98,126.72 612.70,126.75 613.42,126.79 614.15,126.83 614.88,126.87 615.60,126.91 616.33,126.95 617.05,126.99 617.77,127.02 618.50,127.06 618.93,127.09 619.66,127.13 620.38,127.17 621.11,127.21 621.84,127.25 622.56,127.29 623.28,127.33 624.01,127.37 624.74,127.41 625.46,127.45 626.18,127.50 626.91,127.54 627.63,127.58 628.36,127.62 629.09,127.66 629.81,127.70 630.53,127.74 631.26,127.78 631.99,127.82 632.71,127.86 633.43,127.91 634.16,127.95 634.88,127.99 635.61,128.03 636.34,128.07 637.06,128.11 637.78,128.15 638.51,128.19 639.24,128.23 639.96,128.27 640.68,128.31 641.41,128.36 642.13,128.40 642.86,128.44 643.59,128.48 644.31,128.52 645.03,128.56 645.76,128.60 646.49,128.64 647.21,128.68 647.93,128.72 648.66,128.76 649.38,128.81 650.11,128.85 650.84,128.89 651.56,128.93 652.28,128.97 653.01,129.01 653.74,129.05 654.46,129.09 655.18,129.13 655.91,129.17 656.63,129.21 657.36,129.26 658.09,129.30 658.81,129.34 659.53,129.38 660.26,129.42 660.99,129.46 661.71,129.50" fill="none" stroke="#bde3aa" stroke-width="1.5" stroke-linejoin="round"/>
<polyline points="575.00,124.60 575.73,124.39 576.45,124.18 577.17,123.97 577.90,123.77 578.62,123.57 579.35,123.38 580.08,123.18 580.80,123.00 581.52,122.81 582.25,122.63 582.98,122.45 583.70,122.27 584.42,122.10 585.15,121.93 585.88,121.77 586.60,121.60 587.33,121.44 588.05,121.28 588.77,121.13 589.50,120.98 590.23,120.82 590.95,120.68 591.67,120.53 592.40,120.39 593.12,120.25 593.85,120.11 594.58,119.98 595.30,119.84 596.02,119.71 596.75,119.59 597.48,119.46 598.20,119.34 598.92,119.21 599.65,119.10 600.38,118.98 601.10,118.86 601.83,118.75 602.55,118.64 603.27,118.53 604.00,118.42 604.73,118.31 605.45,118.21 606.17,118.11 606.90,118.01 607.62,117.91 608.35,117.81 609.08,117.72 609.80,117.62 610.52,117.53 611.25,117.44 611.98,117.35 612.70,117.27 613.42,117.18 614.15,117.10 614.88,117.01 615.60,116.93 616.33,116.85 617.05,116.77 617.77,116.70 618.50,116.62 618.93,116.63 619.66,116.64 620.38,116.65 621.11,116.66 621.84,116.68 622.56,116.69 623.28,116.70 624.01,116.71 624.74,116.73 625.46,116.74 626.18,116.75 626.91,116.76 627.63,116.78 628.36,116.79 629.09,116.80 629.81,116.81 630.53,116.82 631.26,116.84 631.99,116.85 632.71,116.86 633.43,116.87 634.16,116.89 634.88,116.90 635.61,116.91 636.34,116.92 637.06,116.93 637.78,116.95 638.51,116.96 639.24,116.97 639.96,116.98 640.68,117.00 641.41,117.01 642.13,117.02 642.86,117.03 643.59,117.05 644.31,117.06 645.03,117.07 645.76,117.08 646.49,117.09 647.21,117.11 647.93,117.12 648.66,117.13 649.38,117.14 650.11,117.16 650.84,117.17 651.56,117.18 652.28,117.19 653.01,117.20 653.74,117.22 654.46,117.23 655.18,117.24 655.91,117.25 656.63,117.27 657.36,117.28 658.09,117.29 658.81,117.30 659.53,117.32 660.26,117.33 660.99,117.34 661.71,117.35" fill="none" stroke="#6acb3c" stroke-width="1.5" stroke-linejoin="round"/>
<polyline points="575.00,124.60 575.73,123.96 576.45,123.33 577.17,122.72 577.90,122.11 578.62,121.51 579.35,120.93 580.08,120.35 580.80,119.79 581.52,119.23 582.25,118.69 582.98,118.15 583.70,117.62 584.42,117.11 585.15,116.60 585.88,116.10 586.60,115.61 587.33,115.12 588.05,114.65 588.77,114.18 589.50,113.73 590.23,113.27 590.95,112.83 591.67,112.40 592.40,111.97 593.12,111.55 593.85,111.14 594.58,110.73 595.30,110.33 596.02,109.94 596.75,109.56 597.48,109.18 598.20,108.81 598.92,108.44 599.65,108.09 600.38,107.73 601.10,107.39 601.83,107.05 602.55,106.71 603.27,106.38 604.00,106.06 604.73,105.74 605.45,105.43 606.17,105.13 606.90,104.83 607.62,104.53 608.35,104.24 609.08,103.95 609.80,103.67 610.52,103.40 611.25,103.13 611.98,102.86 612.70,102.60 613.42,102.34 614.15,102.09 614.88,101.84 615.60,101.60 616.33,101.36 617.05,101.12 617.77,100.89 618.50,100.66 618.93,100.66 619.66,100.65 620.38,100.64 621.11,100.63 621.84,100.62 622.56,100.62 623.28,100.61 624.01,100.60 624.74,100.59 625.46,100.58 626.18,100.57 626.91,100.57 627.63,100.56 628.36,100.55 629.09,100.54 629.81,100.53 630.53,100.53 631.26,100.52 631.99,100.51 632.71,100.50 633.43,100.49 634.16,100.48 634.88,100.48 635.61,100.47 636.34,100.46 637.06,100.45 637.78,100.44 638.51,100.44 639.24,100.43 639.96,100.42 640.68,100.41 641.41,100.40 642.13,100.39 642.86,100.39 643.59,100.38 644.31,100.37 645.03,100.36 645.76,100.35 646.49,100.35 647.21,100.34 647.93,100.33 648.66,100.32 649.38,100.31 650.11,100.30 650.84,100.30 651.56,100.29 652.28,100.28 653.01,100.27 653.74,100.26 654.46,100.26 655.18,100.25 655.91,100.24 656.63,100.23 657.36,100.22 658.09,100.21 658.81,100.21 659.53,100.20 660.26,100.19 660.99,100.18 661.71,100.17" fill="none" stroke="#48a52c" stroke-width="1.5" stroke-linejoin="round"/>
<polyline points="575.00,124.60 575.73,120.17 576.45,116.20 577.17,112.63 577.90,109.41 578.62,106.50 579.35,103.85 580.08,101.43 580.80,99.23 581.52,97.20 582.25,95.34 582.98,93.62 583.70,92.03 584.42,90.55 585.15,89.17 585.88,87.88 586.60,86.68 587.33,85.55 588.05,84.48 588.77,83.48 589.50,82.53 590.23,81.63 590.95,80.77 591.67,79.96 592.40,79.19 593.12,78.45 593.85,77.75 594.58,77.08 595.30,76.44 596.02,75.83 596.75,75.24 597.48,74.67 598.20,74.13 598.92,73.61 599.65,73.11 600.38,72.63 601.10,72.17 601.83,71.73 602.55,71.30 603.27,70.89 604.00,70.49 604.73,70.11 605.45,69.74 606.17,69.39 606.90,69.04 607.62,68.71 608.35,68.40 609.08,68.09 609.80,67.79 610.52,67.51 611.25,67.23 611.98,66.97 612.70,66.71 613.42,66.46 614.15,66.22 614.88,65.99 615.60,65.77 616.33,65.56 617.05,65.35 617.77,65.15 618.50,64.96 618.93,64.95 619.66,64.94 620.38,64.92 621.11,64.91 621.84,64.90 622.56,64.89 623.28,64.88 624.01,64.86 624.74,64.85 625.46,64.84 626.18,64.83 626.91,64.81 627.63,64.80 628.36,64.79 629.09,64.78 629.81,64.76 630.53,64.75 631.26,64.74 631.99,64.73 632.71,64.72 633.43,64.70 634.16,64.69 634.88,64.68 635.61,64.67 636.34,64.65 637.06,64.64 637.78,64.63 638.51,64.62 639.24,64.61 639.96,64.59 640.68,64.58 641.41,64.57 642.13,64.56 642.86,64.54 643.59,64.53 644.31,64.52 645.03,64.51 645.76,64.49 646.49,64.48 647.21,64.47 647.93,64.46 648.66,64.45 649.38,64.43 650.11,64.42 650.84,64.41 651.56,64.40 652.28,64.38 653.01,64.37 653.74,64.36 654.46,64.35 655.18,64.34 655.91,64.32 656.63,64.31 657.36,64.30 658.09,64.29 658.81,64.27 659.53,64.26 660.26,64.25 660.99,64.24 661.71,64.22" fill="none" stroke="#387f24" stroke-width="1.8" stroke-linejoin="round"/>
<polyline points="575.00,124.60 575.73,104.38 576.45,93.05 577.17,86.08 577.90,81.30 578.62,77.67 579.35,74.70 580.08,72.13 580.80,69.83 581.52,67.75 582.25,65.84 582.98,64.08 583.70,62.44 584.42,60.92 585.15,59.50 585.88,58.18 586.60,56.94 587.33,55.78 588.05,54.70 588.77,53.68 589.50,52.72 590.23,51.83 590.95,50.98 591.67,50.19 592.40,49.44 593.12,48.73 593.85,48.07 594.58,47.44 595.30,46.85 596.02,46.29 596.75,45.76 597.48,45.26 598.20,44.79 598.92,44.34 599.65,43.92 600.38,43.52 601.10,43.14 601.83,42.78 602.55,42.44 603.27,42.12 604.00,41.81 604.73,41.52 605.45,41.25 606.17,40.99 606.90,40.74 607.62,40.51 608.35,40.29 609.08,40.08 609.80,39.88 610.52,39.70 611.25,39.52 611.98,39.35 612.70,39.19 613.42,39.03 614.15,38.89 614.88,38.75 615.60,38.62 616.33,38.50 617.05,38.38 617.77,38.27 618.50,38.17 618.93,38.17 619.66,38.16 620.38,38.16 621.11,38.15 621.84,38.15 622.56,38.14 623.28,38.14 624.01,38.14 624.74,38.13 625.46,38.13 626.18,38.12 626.91,38.12 627.63,38.12 628.36,38.11 629.09,38.11 629.81,38.10 630.53,38.10 631.26,38.10 631.99,38.09 632.71,38.09 633.43,38.08 634.16,38.08 634.88,38.08 635.61,38.07 636.34,38.07 637.06,38.06 637.78,38.06 638.51,38.05 639.24,38.05 639.96,38.05 640.68,38.04 641.41,38.04 642.13,38.03 642.86,38.03 643.59,38.03 644.31,38.02 645.03,38.02 645.76,38.01 646.49,38.01 647.21,38.01 647.93,38.00 648.66,38.00 649.38,37.99 650.11,37.99 650.84,37.99 651.56,37.98 652.28,37.98 653.01,37.97 653.74,37.97 654.46,37.96 655.18,37.96 655.91,37.96 656.63,37.95 657.36,37.95 658.09,37.94 658.81,37.94 659.53,37.94 660.26,37.93 660.99,37.93 661.71,37.92" fill="none" stroke="#2f5e21" stroke-width="2.0" stroke-linejoin="round"/>
<circle cx="617.60" cy="58.20" r="1.5" fill="#14e614"/>
<line x1="621.20" y1="57.60" x2="662.20" y2="57.60" stroke="#ee6d73" stroke-width="1.3" />
<line x1="621.20" y1="54.20" x2="636.20" y2="54.20" stroke="#2cc4e0" stroke-width="1.3" />
<line x1="647.20" y1="54.20" x2="662.20" y2="54.20" stroke="#3b9fd0" stroke-width="1.3" />
<path d="M-3.00,5.50 L-3.00,-5.50 Q-0.98,-2.86 1.04,-5.50 L1.74,-4.31 L3.00,-4.14 L3.00,5.50 Z" fill="#c2c2c2" transform="translate(635.60,46.80) rotate(-20)"/>
<path d="M-3.00,5.50 L-3.00,-5.50 Q-0.98,-2.86 1.04,-5.50 L1.74,-4.31 L3.00,-4.14 L3.00,5.50 Z" fill="#c2c2c2" transform="translate(646.00,46.60) rotate(0)"/>
<text x="277.20" y="166.90" font-size="16.2" fill="#111" font-weight="bold">f</text>
<line x1="309.80" y1="173.60" x2="309.80" y2="284.00" stroke="#222" stroke-width="1.3" />
<line x1="305.40" y1="174.20" x2="309.80" y2="174.20" stroke="#222" stroke-width="1.2" />
<text transform="translate(303.80,177.20) scale(1,1.08)" font-size="8.4" fill="#383838" text-anchor="end" font-weight="normal" stroke="#383838" stroke-width="0.12">0.8</text>
<line x1="305.40" y1="198.50" x2="309.80" y2="198.50" stroke="#222" stroke-width="1.2" />
<text transform="translate(303.80,201.50) scale(1,1.08)" font-size="8.4" fill="#383838" text-anchor="end" font-weight="normal" stroke="#383838" stroke-width="0.12">0.6</text>
<line x1="305.40" y1="222.80" x2="309.80" y2="222.80" stroke="#222" stroke-width="1.2" />
<text transform="translate(303.80,225.80) scale(1,1.08)" font-size="8.4" fill="#383838" text-anchor="end" font-weight="normal" stroke="#383838" stroke-width="0.12">0.4</text>
<line x1="305.40" y1="247.10" x2="309.80" y2="247.10" stroke="#222" stroke-width="1.2" />
<text transform="translate(303.80,250.10) scale(1,1.08)" font-size="8.4" fill="#383838" text-anchor="end" font-weight="normal" stroke="#383838" stroke-width="0.12">0.2</text>
<line x1="305.40" y1="271.40" x2="309.80" y2="271.40" stroke="#222" stroke-width="1.2" />
<text transform="translate(303.80,274.40) scale(1,1.08)" font-size="8.4" fill="#383838" text-anchor="end" font-weight="normal" stroke="#383838" stroke-width="0.12">0.0</text>
<line x1="353.15" y1="271.40" x2="353.15" y2="276.40" stroke="#222" stroke-width="1.2" />
<text transform="translate(353.15,284.70) scale(1,1.08)" font-size="8.5" fill="#383838" text-anchor="middle" font-weight="normal" stroke="#383838" stroke-width="0.12">300</text>
<line x1="396.50" y1="271.40" x2="396.50" y2="276.40" stroke="#222" stroke-width="1.2" />
<text transform="translate(396.50,284.70) scale(1,1.08)" font-size="8.5" fill="#383838" text-anchor="middle" font-weight="normal" stroke="#383838" stroke-width="0.12">600</text>
<text transform="translate(353.45,299.20) scale(1,1.08)" font-size="9.3" fill="#2a2a2a" text-anchor="middle" font-weight="normal" stroke="#2a2a2a" stroke-width="0.3">Time (s)</text>
<text transform="translate(286.80,229.10) rotate(-90) scale(1,1.06)" font-size="9.2" fill="#333" stroke="#333" stroke-width="0.25" text-anchor="middle">Response unit (nm)</text>
<text transform="translate(317.10,182.00) scale(1,1.08)" font-size="9.2" fill="#222" stroke="#222" stroke-width="0.15" textLength="74.5" lengthAdjust="spacingAndGlyphs">9T+L1: K<tspan font-size="5.06" dy="1.3">D</tspan><tspan dy="-1.3"> = 379 nM</tspan></text>
<polyline points="309.80,271.40 310.96,269.88 312.11,268.59 313.27,267.47 314.42,266.50 315.58,265.65 316.74,264.89 317.89,264.21 319.05,263.59 320.20,263.03 321.36,262.52 322.52,262.04 323.67,261.61 324.83,261.20 325.98,260.83 327.14,260.48 328.30,260.15 329.45,259.84 330.61,259.56 331.76,259.29 332.92,259.03 334.08,258.80 335.23,258.57 336.39,258.36 337.54,258.17 338.70,257.98 339.86,257.81 341.01,257.64 342.17,257.49 343.32,257.34 344.48,257.21 345.64,257.08 346.79,256.96 347.95,256.84 349.10,256.74 350.26,256.63 351.42,256.54 352.57,256.45 353.73,256.36 354.88,256.28 356.04,256.21 357.20,256.14 358.35,256.07 359.51,256.01 360.66,255.95 361.82,255.90 362.98,255.84 364.13,255.79 365.29,255.75 366.44,255.70 367.60,255.66 368.76,255.62 369.91,255.59 371.07,255.55 372.22,255.52 373.38,255.49 374.54,255.46 375.69,255.43 376.85,255.41 378.00,255.39 379.16,255.36 380.32,255.34 381.47,255.32 382.63,255.30 383.78,255.28 384.94,255.27 386.10,255.25 387.25,255.24 388.41,255.22 389.56,255.21 390.72,255.20 391.88,255.19 393.03,255.18 394.19,255.16 395.34,255.16 396.50,255.15" fill="none" stroke="#a0a0a0" stroke-width="0.75"/>
<polyline points="309.80,271.40 310.96,267.55 312.11,264.43 313.27,261.88 314.42,259.78 315.58,258.02 316.74,256.54 317.89,255.27 319.05,254.18 320.20,253.23 321.36,252.40 322.52,251.66 323.67,251.00 324.83,250.41 325.98,249.88 327.14,249.40 328.30,248.95 329.45,248.55 330.61,248.18 331.76,247.84 332.92,247.53 334.08,247.24 335.23,246.97 336.39,246.72 337.54,246.49 338.70,246.28 339.86,246.08 341.01,245.90 342.17,245.72 343.32,245.57 344.48,245.42 345.64,245.28 346.79,245.15 347.95,245.04 349.10,244.93 350.26,244.82 351.42,244.73 352.57,244.64 353.73,244.56 354.88,244.48 356.04,244.41 357.20,244.34 358.35,244.28 359.51,244.22 360.66,244.17 361.82,244.12 362.98,244.07 364.13,244.03 365.29,243.99 366.44,243.95 367.60,243.92 368.76,243.89 369.91,243.86 371.07,243.83 372.22,243.80 373.38,243.78 374.54,243.76 375.69,243.74 376.85,243.72 378.00,243.70 379.16,243.68 380.32,243.67 381.47,243.65 382.63,243.64 383.78,243.62 384.94,243.61 386.10,243.60 387.25,243.59 388.41,243.58 389.56,243.57 390.72,243.57 391.88,243.56 393.03,243.55 394.19,243.54 395.34,243.54 396.50,243.53" fill="none" stroke="#a0a0a0" stroke-width="0.75"/>
<polyline points="309.80,271.40 310.96,271.31 312.11,271.23 313.27,271.16 314.42,271.08 315.58,271.01 316.74,270.94 317.89,270.88 319.05,270.82 320.20,270.76 321.36,270.71 322.52,270.65 323.67,270.60 324.83,270.55 325.98,270.51 327.14,270.46 328.30,270.42 329.45,270.38 330.61,270.35 331.76,270.31 332.92,270.28 334.08,270.24 335.23,270.21 336.39,270.18 337.54,270.15 338.70,270.13 339.86,270.10 341.01,270.08 342.17,270.05 343.32,270.03 344.48,270.01 345.64,269.99 346.79,269.97 347.95,269.95 349.10,269.93 350.26,269.92 351.42,269.90 352.57,269.89 353.73,269.87 354.88,269.86 356.04,269.84 357.20,269.83 358.35,269.82 359.51,269.81 360.66,269.80 361.82,269.79 362.98,269.78 364.13,269.77 365.29,269.76 366.44,269.75 367.60,269.74 368.76,269.74 369.91,269.73 371.07,269.72 372.22,269.71 373.38,269.71 374.54,269.70 375.69,269.70 376.85,269.69 378.00,269.68 379.16,269.68 380.32,269.68 381.47,269.67 382.63,269.67 383.78,269.66 384.94,269.66 386.10,269.65 387.25,269.65 388.41,269.65 389.56,269.64 390.72,269.64 391.88,269.64 393.03,269.64 394.19,269.63 395.34,269.63 396.50,269.63" fill="none" stroke="#a0a0a0" stroke-width="0.75"/>
<polyline points="309.80,271.40 310.52,271.38 311.25,271.35 311.97,271.33 312.69,271.31 313.41,271.29 314.13,271.27 314.86,271.26 315.58,271.24 316.30,271.22 317.03,271.21 317.75,271.19 318.47,271.18 319.19,271.17 319.92,271.16 320.64,271.14 321.36,271.13 322.08,271.12 322.81,271.11 323.53,271.10 324.25,271.09 324.97,271.08 325.69,271.08 326.42,271.07 327.14,271.06 327.86,271.05 328.59,271.05 329.31,271.04 330.03,271.03 330.75,271.03 331.48,271.02 332.20,271.02 332.92,271.01 333.64,271.01 334.37,271.00 335.09,271.00 335.81,270.99 336.53,270.99 337.25,270.99 337.98,270.98 338.70,270.98 339.42,270.98 340.14,270.97 340.87,270.97 341.59,270.97 342.31,270.97 343.04,270.96 343.76,270.96 344.48,270.96 345.20,270.96 345.93,270.95 346.65,270.95 347.37,270.95 348.09,270.95 348.81,270.95 349.54,270.95 350.26,270.94 350.98,270.94 351.70,270.94 352.43,270.94 353.15,270.94 353.58,270.94 354.31,270.94 355.03,270.94 355.75,270.94 356.47,270.94 357.20,270.94 357.92,270.94 358.64,270.94 359.36,270.94 360.09,270.94 360.81,270.94 361.53,270.94 362.25,270.94 362.98,270.94 363.70,270.94 364.42,270.94 365.14,270.94 365.87,270.94 366.59,270.94 367.31,270.94 368.03,270.94 368.76,270.94 369.48,270.94 370.20,270.94 370.92,270.94 371.65,270.94 372.37,270.94 373.09,270.94 373.81,270.94 374.54,270.94 375.26,270.94 375.98,270.94 376.70,270.94 377.43,270.94 378.15,270.94 378.87,270.94 379.59,270.94 380.32,270.94 381.04,270.94 381.76,270.94 382.48,270.94 383.21,270.94 383.93,270.94 384.65,270.94 385.37,270.94 386.10,270.94 386.82,270.94 387.54,270.94 388.26,270.94 388.99,270.94 389.71,270.94 390.43,270.94 391.15,270.94 391.88,270.94 392.60,270.94 393.32,270.94 394.04,270.94 394.77,270.94 395.49,270.94 396.21,270.94" fill="none" stroke="#cfcfcf" stroke-width="1.2" stroke-linejoin="round"/>
<polyline points="309.80,271.40 310.52,271.37 311.25,271.34 311.97,271.32 312.69,271.29 313.41,271.26 314.13,271.24 314.86,271.22 315.58,271.19 316.30,271.17 317.03,271.15 317.75,271.13 318.47,271.11 319.19,271.09 319.92,271.07 320.64,271.05 321.36,271.03 322.08,271.01 322.81,270.99 323.53,270.98 324.25,270.96 324.97,270.95 325.69,270.93 326.42,270.92 327.14,270.90 327.86,270.89 328.59,270.87 329.31,270.86 330.03,270.85 330.75,270.84 331.48,270.82 332.20,270.81 332.92,270.80 333.64,270.79 334.37,270.78 335.09,270.77 335.81,270.76 336.53,270.75 337.25,270.74 337.98,270.73 338.70,270.72 339.42,270.71 340.14,270.70 340.87,270.70 341.59,270.69 342.31,270.68 343.04,270.67 343.76,270.67 344.48,270.66 345.20,270.65 345.93,270.64 346.65,270.64 347.37,270.63 348.09,270.63 348.81,270.62 349.54,270.61 350.26,270.61 350.98,270.60 351.70,270.60 352.43,270.59 353.15,270.59 353.58,270.59 354.31,270.58 355.03,270.58 355.75,270.57 356.47,270.57 357.20,270.57 357.92,270.56 358.64,270.56 359.36,270.55 360.09,270.55 360.81,270.55 361.53,270.54 362.25,270.54 362.98,270.53 363.70,270.53 364.42,270.53 365.14,270.52 365.87,270.52 366.59,270.51 367.31,270.51 368.03,270.51 368.76,270.50 369.48,270.50 370.20,270.49 370.92,270.49 371.65,270.48 372.37,270.48 373.09,270.48 373.81,270.47 374.54,270.47 375.26,270.46 375.98,270.46 376.70,270.46 377.43,270.45 378.15,270.45 378.87,270.44 379.59,270.44 380.32,270.44 381.04,270.43 381.76,270.43 382.48,270.42 383.21,270.42 383.93,270.42 384.65,270.41 385.37,270.41 386.10,270.40 386.82,270.40 387.54,270.40 388.26,270.39 388.99,270.39 389.71,270.38 390.43,270.38 391.15,270.38 391.88,270.37 392.60,270.37 393.32,270.36 394.04,270.36 394.77,270.36 395.49,270.35 396.21,270.35" fill="none" stroke="#bde3aa" stroke-width="1.5" stroke-linejoin="round"/>
<polyline points="309.80,271.40 310.52,271.35 311.25,271.29 311.97,271.24 312.69,271.19 313.41,271.15 314.13,271.10 314.86,271.05 315.58,271.01 316.30,270.97 317.03,270.93 317.75,270.89 318.47,270.85 319.19,270.81 319.92,270.77 320.64,270.74 321.36,270.71 322.08,270.67 322.81,270.64 323.53,270.61 324.25,270.58 324.97,270.55 325.69,270.52 326.42,270.49 327.14,270.46 327.86,270.44 328.59,270.41 329.31,270.39 330.03,270.36 330.75,270.34 331.48,270.32 332.20,270.30 332.92,270.28 333.64,270.25 334.37,270.23 335.09,270.22 335.81,270.20 336.53,270.18 337.25,270.16 337.98,270.14 338.70,270.13 339.42,270.11 340.14,270.09 340.87,270.08 341.59,270.06 342.31,270.05 343.04,270.04 343.76,270.02 344.48,270.01 345.20,270.00 345.93,269.98 346.65,269.97 347.37,269.96 348.09,269.95 348.81,269.94 349.54,269.93 350.26,269.92 350.98,269.91 351.70,269.90 352.43,269.89 353.15,269.88 353.58,269.88 354.31,269.87 355.03,269.87 355.75,269.86 356.47,269.86 357.20,269.86 357.92,269.85 358.64,269.85 359.36,269.84 360.09,269.84 360.81,269.84 361.53,269.83 362.25,269.83 362.98,269.82 363.70,269.82 364.42,269.82 365.14,269.81 365.87,269.81 366.59,269.80 367.31,269.80 368.03,269.80 368.76,269.79 369.48,269.79 370.20,269.78 370.92,269.78 371.65,269.78 372.37,269.77 373.09,269.77 373.81,269.76 374.54,269.76 375.26,269.75 375.98,269.75 376.70,269.75 377.43,269.74 378.15,269.74 378.87,269.73 379.59,269.73 380.32,269.73 381.04,269.72 381.76,269.72 382.48,269.71 383.21,269.71 383.93,269.71 384.65,269.70 385.37,269.70 386.10,269.69 386.82,269.69 387.54,269.69 388.26,269.68 388.99,269.68 389.71,269.67 390.43,269.67 391.15,269.67 391.88,269.66 392.60,269.66 393.32,269.65 394.04,269.65 394.77,269.65 395.49,269.64 396.21,269.64" fill="none" stroke="#6acb3c" stroke-width="1.5" stroke-linejoin="round"/>
<polyline points="309.80,271.40 310.52,270.72 311.25,270.15 311.97,269.66 312.69,269.25 313.41,268.89 314.13,268.58 314.86,268.31 315.58,268.07 316.30,267.86 317.03,267.67 317.75,267.50 318.47,267.35 319.19,267.21 319.92,267.09 320.64,266.97 321.36,266.87 322.08,266.76 322.81,266.67 323.53,266.58 324.25,266.50 324.97,266.42 325.69,266.35 326.42,266.27 327.14,266.20 327.86,266.14 328.59,266.08 329.31,266.02 330.03,265.96 330.75,265.90 331.48,265.85 332.20,265.79 332.92,265.74 333.64,265.69 334.37,265.65 335.09,265.60 335.81,265.56 336.53,265.51 337.25,265.47 337.98,265.43 338.70,265.39 339.42,265.35 340.14,265.32 340.87,265.28 341.59,265.25 342.31,265.21 343.04,265.18 343.76,265.15 344.48,265.12 345.20,265.09 345.93,265.06 346.65,265.03 347.37,265.00 348.09,264.98 348.81,264.95 349.54,264.93 350.26,264.90 350.98,264.88 351.70,264.86 352.43,264.83 353.15,264.81 353.58,264.81 354.31,264.80 355.03,264.80 355.75,264.79 356.47,264.79 357.20,264.78 357.92,264.77 358.64,264.77 359.36,264.76 360.09,264.75 360.81,264.75 361.53,264.74 362.25,264.74 362.98,264.73 363.70,264.72 364.42,264.72 365.14,264.71 365.87,264.71 366.59,264.70 367.31,264.69 368.03,264.69 368.76,264.68 369.48,264.68 370.20,264.67 370.92,264.66 371.65,264.66 372.37,264.65 373.09,264.65 373.81,264.64 374.54,264.63 375.26,264.63 375.98,264.62 376.70,264.61 377.43,264.61 378.15,264.60 378.87,264.60 379.59,264.59 380.32,264.58 381.04,264.58 381.76,264.57 382.48,264.57 383.21,264.56 383.93,264.55 384.65,264.55 385.37,264.54 386.10,264.54 386.82,264.53 387.54,264.52 388.26,264.52 388.99,264.51 389.71,264.51 390.43,264.50 391.15,264.49 391.88,264.49 392.60,264.48 393.32,264.48 394.04,264.47 394.77,264.46 395.49,264.46 396.21,264.45" fill="none" stroke="#48a52c" stroke-width="1.5" stroke-linejoin="round"/>
<polyline points="309.80,271.40 310.52,270.23 311.25,269.19 311.97,268.27 312.69,267.45 313.41,266.71 314.13,266.04 314.86,265.43 315.58,264.87 316.30,264.36 317.03,263.88 317.75,263.44 318.47,263.02 319.19,262.63 319.92,262.27 320.64,261.93 321.36,261.60 322.08,261.29 322.81,261.00 323.53,260.72 324.25,260.45 324.97,260.19 325.69,259.95 326.42,259.72 327.14,259.49 327.86,259.28 328.59,259.07 329.31,258.88 330.03,258.69 330.75,258.50 331.48,258.33 332.20,258.16 332.92,258.00 333.64,257.84 334.37,257.69 335.09,257.55 335.81,257.41 336.53,257.27 337.25,257.14 337.98,257.02 338.70,256.90 339.42,256.79 340.14,256.68 340.87,256.57 341.59,256.47 342.31,256.37 343.04,256.27 343.76,256.18 344.48,256.09 345.20,256.01 345.93,255.93 346.65,255.85 347.37,255.77 348.09,255.70 348.81,255.63 349.54,255.56 350.26,255.49 350.98,255.43 351.70,255.37 352.43,255.31 353.15,255.26 353.58,255.38 354.31,255.50 355.03,255.55 355.75,255.58 356.47,255.59 357.20,255.59 357.92,255.59 358.64,255.59 359.36,255.58 360.09,255.58 360.81,255.58 361.53,255.57 362.25,255.57 362.98,255.56 363.70,255.56 364.42,255.56 365.14,255.55 365.87,255.55 366.59,255.54 367.31,255.54 368.03,255.54 368.76,255.53 369.48,255.53 370.20,255.52 370.92,255.52 371.65,255.52 372.37,255.51 373.09,255.51 373.81,255.50 374.54,255.50 375.26,255.50 375.98,255.49 376.70,255.49 377.43,255.48 378.15,255.48 378.87,255.48 379.59,255.47 380.32,255.47 381.04,255.46 381.76,255.46 382.48,255.46 383.21,255.45 383.93,255.45 384.65,255.44 385.37,255.44 386.10,255.44 386.82,255.43 387.54,255.43 388.26,255.42 388.99,255.42 389.71,255.41 390.43,255.41 391.15,255.41 391.88,255.40 392.60,255.40 393.32,255.39 394.04,255.39 394.77,255.39 395.49,255.38 396.21,255.38" fill="none" stroke="#387f24" stroke-width="1.8" stroke-linejoin="round"/>
<polyline points="309.80,271.40 310.52,268.62 311.25,266.23 311.97,264.16 312.69,262.38 313.41,260.82 314.13,259.45 314.86,258.24 315.58,257.16 316.30,256.20 317.03,255.34 317.75,254.56 318.47,253.85 319.19,253.21 319.92,252.61 320.64,252.06 321.36,251.56 322.08,251.09 322.81,250.65 323.53,250.24 324.25,249.85 324.97,249.49 325.69,249.15 326.42,248.82 327.14,248.52 327.86,248.23 328.59,247.96 329.31,247.70 330.03,247.45 330.75,247.22 331.48,246.99 332.20,246.78 332.92,246.58 333.64,246.38 334.37,246.20 335.09,246.02 335.81,245.85 336.53,245.69 337.25,245.54 337.98,245.40 338.70,245.26 339.42,245.12 340.14,245.00 340.87,244.87 341.59,244.76 342.31,244.65 343.04,244.54 343.76,244.44 344.48,244.34 345.20,244.25 345.93,244.16 346.65,244.08 347.37,244.00 348.09,243.92 348.81,243.84 349.54,243.77 350.26,243.71 350.98,243.64 351.70,243.58 352.43,243.52 353.15,243.46 353.58,243.89 354.31,244.29 355.03,244.49 355.75,244.59 356.47,244.63 357.20,244.66 357.92,244.67 358.64,244.67 359.36,244.68 360.09,244.68 360.81,244.68 361.53,244.68 362.25,244.68 362.98,244.68 363.70,244.68 364.42,244.68 365.14,244.68 365.87,244.68 366.59,244.68 367.31,244.68 368.03,244.68 368.76,244.68 369.48,244.68 370.20,244.68 370.92,244.68 371.65,244.68 372.37,244.68 373.09,244.68 373.81,244.68 374.54,244.68 375.26,244.68 375.98,244.68 376.70,244.68 377.43,244.68 378.15,244.68 378.87,244.68 379.59,244.68 380.32,244.68 381.04,244.68 381.76,244.68 382.48,244.68 383.21,244.68 383.93,244.68 384.65,244.68 385.37,244.68 386.10,244.68 386.82,244.68 387.54,244.68 388.26,244.68 388.99,244.68 389.71,244.68 390.43,244.68 391.15,244.68 391.88,244.68 392.60,244.68 393.32,244.68 394.04,244.68 394.77,244.68 395.49,244.68 396.21,244.68" fill="none" stroke="#2f5e21" stroke-width="2.0" stroke-linejoin="round"/>
<text x="407.40" y="162.40" font-size="17" fill="#111" font-weight="bold" font-family='"Liberation Serif", serif'>g</text>
<line x1="441.00" y1="174.70" x2="441.00" y2="285.60" stroke="#222" stroke-width="1.3" />
<line x1="436.60" y1="175.30" x2="441.00" y2="175.30" stroke="#222" stroke-width="1.2" />
<text transform="translate(435.00,178.30) scale(1,1.08)" font-size="8.4" fill="#383838" text-anchor="end" font-weight="normal" stroke="#383838" stroke-width="0.12">0.8</text>
<line x1="436.60" y1="199.80" x2="441.00" y2="199.80" stroke="#222" stroke-width="1.2" />
<text transform="translate(435.00,202.80) scale(1,1.08)" font-size="8.4" fill="#383838" text-anchor="end" font-weight="normal" stroke="#383838" stroke-width="0.12">0.6</text>
<line x1="436.60" y1="224.30" x2="441.00" y2="224.30" stroke="#222" stroke-width="1.2" />
<text transform="translate(435.00,227.30) scale(1,1.08)" font-size="8.4" fill="#383838" text-anchor="end" font-weight="normal" stroke="#383838" stroke-width="0.12">0.4</text>
<line x1="436.60" y1="248.80" x2="441.00" y2="248.80" stroke="#222" stroke-width="1.2" />
<text transform="translate(435.00,251.80) scale(1,1.08)" font-size="8.4" fill="#383838" text-anchor="end" font-weight="normal" stroke="#383838" stroke-width="0.12">0.2</text>
<line x1="436.60" y1="273.30" x2="441.00" y2="273.30" stroke="#222" stroke-width="1.2" />
<text transform="translate(435.00,276.30) scale(1,1.08)" font-size="8.4" fill="#383838" text-anchor="end" font-weight="normal" stroke="#383838" stroke-width="0.12">0.0</text>
<line x1="484.25" y1="273.30" x2="484.25" y2="278.30" stroke="#222" stroke-width="1.2" />
<text transform="translate(484.25,286.60) scale(1,1.08)" font-size="8.5" fill="#383838" text-anchor="middle" font-weight="normal" stroke="#383838" stroke-width="0.12">300</text>
<line x1="527.50" y1="273.30" x2="527.50" y2="278.30" stroke="#222" stroke-width="1.2" />
<text transform="translate(527.50,286.60) scale(1,1.08)" font-size="8.5" fill="#383838" text-anchor="middle" font-weight="normal" stroke="#383838" stroke-width="0.12">600</text>
<text transform="translate(484.55,301.10) scale(1,1.08)" font-size="9.3" fill="#2a2a2a" text-anchor="middle" font-weight="normal" stroke="#2a2a2a" stroke-width="0.3">Time (s)</text>
<text transform="translate(418.00,230.45) rotate(-90) scale(1,1.06)" font-size="9.2" fill="#333" stroke="#333" stroke-width="0.25" text-anchor="middle">Response unit (nm)</text>
<text transform="translate(449.40,183.00) scale(1,1.08)" font-size="9.2" fill="#222" stroke="#222" stroke-width="0.15" textLength="74.2" lengthAdjust="spacingAndGlyphs">9T+L2: K<tspan font-size="5.06" dy="1.3">D</tspan><tspan dy="-1.3"> = 581 nM</tspan></text>
<polyline points="441.00,273.30 442.15,272.75 443.31,272.23 444.46,271.74 445.61,271.27 446.77,270.82 447.92,270.39 449.07,269.98 450.23,269.59 451.38,269.22 452.53,268.86 453.69,268.53 454.84,268.20 455.99,267.90 457.15,267.61 458.30,267.33 459.45,267.06 460.61,266.81 461.76,266.57 462.91,266.34 464.07,266.12 465.22,265.91 466.37,265.71 467.53,265.52 468.68,265.34 469.83,265.17 470.99,265.00 472.14,264.85 473.29,264.70 474.45,264.56 475.60,264.42 476.75,264.29 477.91,264.17 479.06,264.05 480.21,263.94 481.37,263.83 482.52,263.73 483.67,263.63 484.83,263.54 485.98,263.45 487.13,263.37 488.29,263.29 489.44,263.21 490.59,263.14 491.75,263.07 492.90,263.00 494.05,262.94 495.21,262.88 496.36,262.82 497.51,262.77 498.67,262.72 499.82,262.67 500.97,262.62 502.13,262.58 503.28,262.53 504.43,262.49 505.59,262.45 506.74,262.42 507.89,262.38 509.05,262.35 510.20,262.32 511.35,262.29 512.51,262.26 513.66,262.23 514.81,262.20 515.97,262.18 517.12,262.15 518.27,262.13 519.43,262.11 520.58,262.09 521.73,262.07 522.89,262.05 524.04,262.03 525.19,262.01 526.35,262.00 527.50,261.98" fill="none" stroke="#a0a0a0" stroke-width="0.75"/>
<polyline points="441.00,273.30 442.15,271.93 443.31,270.65 444.46,269.45 445.61,268.32 446.77,267.26 447.92,266.27 449.07,265.34 450.23,264.46 451.38,263.65 452.53,262.88 453.69,262.16 454.84,261.48 455.99,260.85 457.15,260.25 458.30,259.69 459.45,259.17 460.61,258.68 461.76,258.22 462.91,257.79 464.07,257.38 465.22,257.00 466.37,256.64 467.53,256.31 468.68,256.00 469.83,255.70 470.99,255.43 472.14,255.17 473.29,254.92 474.45,254.70 475.60,254.48 476.75,254.28 477.91,254.09 479.06,253.92 480.21,253.75 481.37,253.60 482.52,253.45 483.67,253.32 484.83,253.19 485.98,253.07 487.13,252.95 488.29,252.85 489.44,252.75 490.59,252.66 491.75,252.57 492.90,252.49 494.05,252.41 495.21,252.34 496.36,252.27 497.51,252.21 498.67,252.15 499.82,252.09 500.97,252.04 502.13,251.99 503.28,251.95 504.43,251.90 505.59,251.86 506.74,251.82 507.89,251.79 509.05,251.76 510.20,251.72 511.35,251.69 512.51,251.67 513.66,251.64 514.81,251.62 515.97,251.59 517.12,251.57 518.27,251.55 519.43,251.53 520.58,251.52 521.73,251.50 522.89,251.48 524.04,251.47 525.19,251.46 526.35,251.44 527.50,251.43" fill="none" stroke="#a0a0a0" stroke-width="0.75"/>
<polyline points="441.00,273.30 442.15,273.19 443.31,273.08 444.46,272.97 445.61,272.87 446.77,272.78 447.92,272.69 449.07,272.60 450.23,272.52 451.38,272.44 452.53,272.37 453.69,272.29 454.84,272.23 455.99,272.16 457.15,272.10 458.30,272.04 459.45,271.99 460.61,271.93 461.76,271.88 462.91,271.83 464.07,271.79 465.22,271.74 466.37,271.70 467.53,271.66 468.68,271.62 469.83,271.59 470.99,271.55 472.14,271.52 473.29,271.49 474.45,271.46 475.60,271.43 476.75,271.40 477.91,271.38 479.06,271.35 480.21,271.33 481.37,271.31 482.52,271.29 483.67,271.26 484.83,271.25 485.98,271.23 487.13,271.21 488.29,271.19 489.44,271.18 490.59,271.16 491.75,271.15 492.90,271.13 494.05,271.12 495.21,271.11 496.36,271.09 497.51,271.08 498.67,271.07 499.82,271.06 500.97,271.05 502.13,271.04 503.28,271.03 504.43,271.02 505.59,271.02 506.74,271.01 507.89,271.00 509.05,270.99 510.20,270.99 511.35,270.98 512.51,270.97 513.66,270.97 514.81,270.96 515.97,270.96 517.12,270.95 518.27,270.95 519.43,270.94 520.58,270.94 521.73,270.94 522.89,270.93 524.04,270.93 525.19,270.92 526.35,270.92 527.50,270.92" fill="none" stroke="#a0a0a0" stroke-width="0.75"/>
<polyline points="441.00,273.30 441.72,273.28 442.44,273.27 443.16,273.25 443.88,273.23 444.60,273.22 445.32,273.20 446.05,273.19 446.77,273.18 447.49,273.17 448.21,273.16 448.93,273.14 449.65,273.13 450.37,273.12 451.09,273.11 451.81,273.11 452.53,273.10 453.25,273.09 453.98,273.08 454.70,273.07 455.42,273.07 456.14,273.06 456.86,273.05 457.58,273.05 458.30,273.04 459.02,273.04 459.74,273.03 460.46,273.03 461.18,273.02 461.90,273.02 462.62,273.01 463.35,273.01 464.07,273.01 464.79,273.00 465.51,273.00 466.23,273.00 466.95,272.99 467.67,272.99 468.39,272.99 469.11,272.98 469.83,272.98 470.55,272.98 471.27,272.98 472.00,272.98 472.72,272.97 473.44,272.97 474.16,272.97 474.88,272.97 475.60,272.97 476.32,272.96 477.04,272.96 477.76,272.96 478.48,272.96 479.20,272.96 479.93,272.96 480.65,272.96 481.37,272.95 482.09,272.95 482.81,272.95 483.53,272.95 484.25,272.95 484.68,272.95 485.40,272.95 486.12,272.95 486.85,272.95 487.57,272.95 488.29,272.95 489.01,272.95 489.73,272.95 490.45,272.95 491.17,272.95 491.89,272.95 492.61,272.95 493.33,272.95 494.05,272.95 494.77,272.95 495.50,272.95 496.22,272.95 496.94,272.95 497.66,272.95 498.38,272.95 499.10,272.95 499.82,272.95 500.54,272.95 501.26,272.95 501.98,272.95 502.70,272.95 503.42,272.95 504.14,272.95 504.87,272.95 505.59,272.95 506.31,272.95 507.03,272.95 507.75,272.95 508.47,272.95 509.19,272.95 509.91,272.95 510.63,272.95 511.35,272.95 512.07,272.95 512.79,272.95 513.52,272.95 514.24,272.95 514.96,272.95 515.68,272.95 516.40,272.95 517.12,272.95 517.84,272.95 518.56,272.95 519.28,272.95 520.00,272.95 520.72,272.95 521.44,272.95 522.17,272.95 522.89,272.95 523.61,272.95 524.33,272.95 525.05,272.95 525.77,272.95 526.49,272.95 527.21,272.95" fill="none" stroke="#cfcfcf" stroke-width="1.2" stroke-linejoin="round"/>
<polyline points="441.00,273.30 441.72,273.27 442.44,273.24 443.16,273.22 443.88,273.19 444.60,273.16 445.32,273.14 446.05,273.11 446.77,273.09 447.49,273.07 448.21,273.05 448.93,273.02 449.65,273.00 450.37,272.98 451.09,272.96 451.81,272.94 452.53,272.93 453.25,272.91 453.98,272.89 454.70,272.87 455.42,272.86 456.14,272.84 456.86,272.83 457.58,272.81 458.30,272.80 459.02,272.78 459.74,272.77 460.46,272.76 461.18,272.74 461.90,272.73 462.62,272.72 463.35,272.71 464.07,272.70 464.79,272.68 465.51,272.67 466.23,272.66 466.95,272.65 467.67,272.64 468.39,272.63 469.11,272.62 469.83,272.62 470.55,272.61 471.27,272.60 472.00,272.59 472.72,272.58 473.44,272.57 474.16,272.57 474.88,272.56 475.60,272.55 476.32,272.55 477.04,272.54 477.76,272.53 478.48,272.53 479.20,272.52 479.93,272.51 480.65,272.51 481.37,272.50 482.09,272.50 482.81,272.49 483.53,272.49 484.25,272.48 484.68,272.57 485.40,272.65 486.12,272.69 486.85,272.71 487.57,272.72 488.29,272.72 489.01,272.72 489.73,272.73 490.45,272.73 491.17,272.73 491.89,272.73 492.61,272.73 493.33,272.73 494.05,272.73 494.77,272.73 495.50,272.73 496.22,272.73 496.94,272.73 497.66,272.73 498.38,272.73 499.10,272.73 499.82,272.73 500.54,272.73 501.26,272.73 501.98,272.73 502.70,272.73 503.42,272.73 504.14,272.73 504.87,272.73 505.59,272.73 506.31,272.73 507.03,272.73 507.75,272.73 508.47,272.73 509.19,272.73 509.91,272.73 510.63,272.73 511.35,272.73 512.07,272.73 512.79,272.73 513.52,272.73 514.24,272.73 514.96,272.73 515.68,272.73 516.40,272.73 517.12,272.73 517.84,272.73 518.56,272.73 519.28,272.73 520.00,272.73 520.72,272.73 521.44,272.73 522.17,272.73 522.89,272.73 523.61,272.73 524.33,272.73 525.05,272.73 525.77,272.73 526.49,272.73 527.21,272.73" fill="none" stroke="#bde3aa" stroke-width="1.5" stroke-linejoin="round"/>
<polyline points="441.00,273.30 441.72,273.23 442.44,273.17 443.16,273.11 443.88,273.05 444.60,272.99 445.32,272.94 446.05,272.88 446.77,272.83 447.49,272.78 448.21,272.73 448.93,272.68 449.65,272.63 450.37,272.59 451.09,272.54 451.81,272.50 452.53,272.46 453.25,272.42 453.98,272.38 454.70,272.34 455.42,272.31 456.14,272.27 456.86,272.23 457.58,272.20 458.30,272.17 459.02,272.14 459.74,272.11 460.46,272.08 461.18,272.05 461.90,272.02 462.62,271.99 463.35,271.96 464.07,271.94 464.79,271.91 465.51,271.89 466.23,271.87 466.95,271.84 467.67,271.82 468.39,271.80 469.11,271.78 469.83,271.76 470.55,271.74 471.27,271.72 472.00,271.70 472.72,271.68 473.44,271.67 474.16,271.65 474.88,271.63 475.60,271.62 476.32,271.60 477.04,271.59 477.76,271.57 478.48,271.56 479.20,271.54 479.93,271.53 480.65,271.52 481.37,271.51 482.09,271.49 482.81,271.48 483.53,271.47 484.25,271.46 484.68,271.63 485.40,271.79 486.12,271.87 486.85,271.91 487.57,271.93 488.29,271.94 489.01,271.95 489.73,271.95 490.45,271.95 491.17,271.95 491.89,271.95 492.61,271.95 493.33,271.95 494.05,271.95 494.77,271.95 495.50,271.95 496.22,271.95 496.94,271.95 497.66,271.95 498.38,271.95 499.10,271.95 499.82,271.95 500.54,271.95 501.26,271.95 501.98,271.95 502.70,271.95 503.42,271.95 504.14,271.95 504.87,271.95 505.59,271.95 506.31,271.95 507.03,271.95 507.75,271.95 508.47,271.95 509.19,271.95 509.91,271.95 510.63,271.95 511.35,271.95 512.07,271.95 512.79,271.95 513.52,271.95 514.24,271.95 514.96,271.95 515.68,271.95 516.40,271.95 517.12,271.95 517.84,271.95 518.56,271.95 519.28,271.95 520.00,271.95 520.72,271.95 521.44,271.95 522.17,271.95 522.89,271.95 523.61,271.95 524.33,271.95 525.05,271.95 525.77,271.95 526.49,271.95 527.21,271.95" fill="none" stroke="#6acb3c" stroke-width="1.5" stroke-linejoin="round"/>
<polyline points="441.00,273.30 441.72,273.15 442.44,273.01 443.16,272.87 443.88,272.73 444.60,272.60 445.32,272.47 446.05,272.34 446.77,272.21 447.49,272.09 448.21,271.97 448.93,271.85 449.65,271.73 450.37,271.62 451.09,271.51 451.81,271.40 452.53,271.29 453.25,271.18 453.98,271.08 454.70,270.98 455.42,270.88 456.14,270.78 456.86,270.68 457.58,270.59 458.30,270.50 459.02,270.41 459.74,270.32 460.46,270.23 461.18,270.15 461.90,270.07 462.62,269.98 463.35,269.90 464.07,269.83 464.79,269.75 465.51,269.67 466.23,269.60 466.95,269.53 467.67,269.46 468.39,269.39 469.11,269.32 469.83,269.25 470.55,269.19 471.27,269.12 472.00,269.06 472.72,269.00 473.44,268.94 474.16,268.88 474.88,268.82 475.60,268.76 476.32,268.71 477.04,268.65 477.76,268.60 478.48,268.55 479.20,268.50 479.93,268.45 480.65,268.40 481.37,268.35 482.09,268.30 482.81,268.25 483.53,268.21 484.25,268.16 484.68,268.68 485.40,269.16 486.12,269.40 486.85,269.52 487.57,269.58 488.29,269.61 489.01,269.62 489.73,269.63 490.45,269.63 491.17,269.63 491.89,269.63 492.61,269.63 493.33,269.63 494.05,269.63 494.77,269.63 495.50,269.63 496.22,269.63 496.94,269.63 497.66,269.63 498.38,269.63 499.10,269.63 499.82,269.63 500.54,269.63 501.26,269.63 501.98,269.63 502.70,269.63 503.42,269.63 504.14,269.63 504.87,269.63 505.59,269.63 506.31,269.63 507.03,269.63 507.75,269.63 508.47,269.63 509.19,269.63 509.91,269.63 510.63,269.63 511.35,269.63 512.07,269.63 512.79,269.63 513.52,269.63 514.24,269.63 514.96,269.63 515.68,269.63 516.40,269.63 517.12,269.63 517.84,269.63 518.56,269.63 519.28,269.63 520.00,269.63 520.72,269.63 521.44,269.63 522.17,269.63 522.89,269.63 523.61,269.63 524.33,269.63 525.05,269.63 525.77,269.63 526.49,269.63 527.21,269.63" fill="none" stroke="#48a52c" stroke-width="1.5" stroke-linejoin="round"/>
<polyline points="441.00,273.30 441.72,272.49 442.44,271.78 443.16,271.14 443.88,270.57 444.60,270.04 445.32,269.57 446.05,269.13 446.77,268.73 447.49,268.36 448.21,268.01 448.93,267.68 449.65,267.37 450.37,267.08 451.09,266.80 451.81,266.53 452.53,266.28 453.25,266.04 453.98,265.81 454.70,265.58 455.42,265.37 456.14,265.16 456.86,264.96 457.58,264.77 458.30,264.58 459.02,264.40 459.74,264.23 460.46,264.06 461.18,263.90 461.90,263.74 462.62,263.59 463.35,263.44 464.07,263.29 464.79,263.16 465.51,263.02 466.23,262.89 466.95,262.76 467.67,262.64 468.39,262.52 469.11,262.40 469.83,262.29 470.55,262.18 471.27,262.08 472.00,261.97 472.72,261.87 473.44,261.78 474.16,261.68 474.88,261.59 475.60,261.50 476.32,261.42 477.04,261.33 477.76,261.25 478.48,261.17 479.20,261.10 479.93,261.02 480.65,260.95 481.37,260.88 482.09,260.82 482.81,260.75 483.53,260.69 484.25,260.62 484.68,261.14 485.40,261.63 486.12,261.88 486.85,262.00 487.57,262.06 488.29,262.09 489.01,262.11 489.73,262.12 490.45,262.13 491.17,262.13 491.89,262.14 492.61,262.14 493.33,262.15 494.05,262.15 494.77,262.15 495.50,262.16 496.22,262.16 496.94,262.17 497.66,262.17 498.38,262.17 499.10,262.18 499.82,262.18 500.54,262.19 501.26,262.19 501.98,262.20 502.70,262.20 503.42,262.20 504.14,262.21 504.87,262.21 505.59,262.22 506.31,262.22 507.03,262.22 507.75,262.23 508.47,262.23 509.19,262.24 509.91,262.24 510.63,262.24 511.35,262.25 512.07,262.25 512.79,262.26 513.52,262.26 514.24,262.26 514.96,262.27 515.68,262.27 516.40,262.28 517.12,262.28 517.84,262.29 518.56,262.29 519.28,262.29 520.00,262.30 520.72,262.30 521.44,262.31 522.17,262.31 522.89,262.31 523.61,262.32 524.33,262.32 525.05,262.33 525.77,262.33 526.49,262.33 527.21,262.34" fill="none" stroke="#387f24" stroke-width="1.8" stroke-linejoin="round"/>
<polyline points="441.00,273.30 441.72,271.35 442.44,269.66 443.16,268.19 443.88,266.90 444.60,265.75 445.32,264.73 446.05,263.82 446.77,262.99 447.49,262.24 448.21,261.55 448.93,260.91 449.65,260.32 450.37,259.77 451.09,259.25 451.81,258.77 452.53,258.31 453.25,257.88 453.98,257.46 454.70,257.07 455.42,256.69 456.14,256.33 456.86,255.98 457.58,255.64 458.30,255.32 459.02,255.01 459.74,254.71 460.46,254.42 461.18,254.14 461.90,253.87 462.62,253.61 463.35,253.36 464.07,253.11 464.79,252.87 465.51,252.64 466.23,252.42 466.95,252.20 467.67,251.99 468.39,251.79 469.11,251.59 469.83,251.40 470.55,251.21 471.27,251.03 472.00,250.86 472.72,250.69 473.44,250.52 474.16,250.36 474.88,250.21 475.60,250.06 476.32,249.91 477.04,249.77 477.76,249.63 478.48,249.50 479.20,249.37 479.93,249.25 480.65,249.12 481.37,249.01 482.09,248.89 482.81,248.78 483.53,248.67 484.25,248.57 484.68,249.98 485.40,251.33 486.12,251.99 486.85,252.32 487.57,252.49 488.29,252.57 489.01,252.61 489.73,252.64 490.45,252.65 491.17,252.66 491.89,252.67 492.61,252.68 493.33,252.69 494.05,252.69 494.77,252.70 495.50,252.71 496.22,252.71 496.94,252.72 497.66,252.72 498.38,252.73 499.10,252.74 499.82,252.74 500.54,252.75 501.26,252.75 501.98,252.76 502.70,252.77 503.42,252.77 504.14,252.78 504.87,252.79 505.59,252.79 506.31,252.80 507.03,252.80 507.75,252.81 508.47,252.82 509.19,252.82 509.91,252.83 510.63,252.83 511.35,252.84 512.07,252.85 512.79,252.85 513.52,252.86 514.24,252.86 514.96,252.87 515.68,252.88 516.40,252.88 517.12,252.89 517.84,252.90 518.56,252.90 519.28,252.91 520.00,252.91 520.72,252.92 521.44,252.93 522.17,252.93 522.89,252.94 523.61,252.94 524.33,252.95 525.05,252.96 525.77,252.96 526.49,252.97 527.21,252.97" fill="none" stroke="#2f5e21" stroke-width="2.0" stroke-linejoin="round"/>
<text x="543.60" y="163.00" font-size="16.2" fill="#111" font-weight="bold">h</text>
<line x1="575.00" y1="174.80" x2="575.00" y2="285.60" stroke="#222" stroke-width="1.3" />
<line x1="570.60" y1="175.40" x2="575.00" y2="175.40" stroke="#222" stroke-width="1.2" />
<text transform="translate(569.00,178.40) scale(1,1.08)" font-size="8.4" fill="#383838" text-anchor="end" font-weight="normal" stroke="#383838" stroke-width="0.12">0.8</text>
<line x1="570.60" y1="199.80" x2="575.00" y2="199.80" stroke="#222" stroke-width="1.2" />
<text transform="translate(569.00,202.80) scale(1,1.08)" font-size="8.4" fill="#383838" text-anchor="end" font-weight="normal" stroke="#383838" stroke-width="0.12">0.6</text>
<line x1="570.60" y1="224.20" x2="575.00" y2="224.20" stroke="#222" stroke-width="1.2" />
<text transform="translate(569.00,227.20) scale(1,1.08)" font-size="8.4" fill="#383838" text-anchor="end" font-weight="normal" stroke="#383838" stroke-width="0.12">0.4</text>
<line x1="570.60" y1="248.60" x2="575.00" y2="248.60" stroke="#222" stroke-width="1.2" />
<text transform="translate(569.00,251.60) scale(1,1.08)" font-size="8.4" fill="#383838" text-anchor="end" font-weight="normal" stroke="#383838" stroke-width="0.12">0.2</text>
<line x1="570.60" y1="273.00" x2="575.00" y2="273.00" stroke="#222" stroke-width="1.2" />
<text transform="translate(569.00,276.00) scale(1,1.08)" font-size="8.4" fill="#383838" text-anchor="end" font-weight="normal" stroke="#383838" stroke-width="0.12">0.0</text>
<line x1="618.35" y1="273.00" x2="618.35" y2="278.00" stroke="#222" stroke-width="1.2" />
<text transform="translate(618.35,286.30) scale(1,1.08)" font-size="8.5" fill="#383838" text-anchor="middle" font-weight="normal" stroke="#383838" stroke-width="0.12">300</text>
<line x1="661.70" y1="273.00" x2="661.70" y2="278.00" stroke="#222" stroke-width="1.2" />
<text transform="translate(661.70,286.30) scale(1,1.08)" font-size="8.5" fill="#383838" text-anchor="middle" font-weight="normal" stroke="#383838" stroke-width="0.12">600</text>
<text transform="translate(618.65,300.80) scale(1,1.08)" font-size="9.3" fill="#2a2a2a" text-anchor="middle" font-weight="normal" stroke="#2a2a2a" stroke-width="0.3">Time (s)</text>
<text transform="translate(552.00,230.50) rotate(-90) scale(1,1.06)" font-size="9.2" fill="#333" stroke="#333" stroke-width="0.25" text-anchor="middle">Response unit (nm)</text>
<text transform="translate(582.50,182.60) scale(1,1.08)" font-size="9.2" fill="#222" stroke="#222" stroke-width="0.15" textLength="89.2" lengthAdjust="spacingAndGlyphs">9T+L1+L2: K<tspan font-size="5.06" dy="1.3">D</tspan><tspan dy="-1.3"> = 173 nM</tspan></text>
<polyline points="575.00,273.00 576.16,272.67 577.31,272.34 578.47,272.03 579.62,271.74 580.78,271.45 581.94,271.18 583.09,270.91 584.25,270.66 585.40,270.42 586.56,270.18 587.72,269.96 588.87,269.74 590.03,269.54 591.18,269.34 592.34,269.15 593.50,268.96 594.65,268.79 595.81,268.62 596.96,268.45 598.12,268.30 599.28,268.15 600.43,268.00 601.59,267.86 602.74,267.73 603.90,267.60 605.06,267.48 606.21,267.36 607.37,267.25 608.52,267.14 609.68,267.03 610.84,266.93 611.99,266.83 613.15,266.74 614.30,266.65 615.46,266.57 616.62,266.48 617.77,266.40 618.93,266.33 620.08,266.25 621.24,266.18 622.40,266.12 623.55,266.05 624.71,265.99 625.86,265.93 627.02,265.87 628.18,265.82 629.33,265.76 630.49,265.71 631.64,265.66 632.80,265.62 633.96,265.57 635.11,265.53 636.27,265.49 637.42,265.44 638.58,265.41 639.74,265.37 640.89,265.33 642.05,265.30 643.20,265.27 644.36,265.23 645.52,265.20 646.67,265.18 647.83,265.15 648.98,265.12 650.14,265.09 651.30,265.07 652.45,265.05 653.61,265.02 654.76,265.00 655.92,264.98 657.08,264.96 658.23,264.94 659.39,264.92 660.54,264.90 661.70,264.89" fill="none" stroke="#a0a0a0" stroke-width="0.75"/>
<polyline points="575.00,273.00 576.16,271.98 577.31,271.01 578.47,270.09 579.62,269.22 580.78,268.39 581.94,267.60 583.09,266.86 584.25,266.15 585.40,265.48 586.56,264.84 587.72,264.23 588.87,263.66 590.03,263.11 591.18,262.59 592.34,262.10 593.50,261.63 594.65,261.19 595.81,260.76 596.96,260.36 598.12,259.99 599.28,259.62 600.43,259.28 601.59,258.96 602.74,258.65 603.90,258.36 605.06,258.08 606.21,257.81 607.37,257.56 608.52,257.33 609.68,257.10 610.84,256.89 611.99,256.68 613.15,256.49 614.30,256.31 615.46,256.13 616.62,255.97 617.77,255.81 618.93,255.66 620.08,255.52 621.24,255.38 622.40,255.26 623.55,255.14 624.71,255.02 625.86,254.91 627.02,254.81 628.18,254.71 629.33,254.62 630.49,254.53 631.64,254.44 632.80,254.37 633.96,254.29 635.11,254.22 636.27,254.15 637.42,254.08 638.58,254.02 639.74,253.96 640.89,253.91 642.05,253.86 643.20,253.81 644.36,253.76 645.52,253.71 646.67,253.67 647.83,253.63 648.98,253.59 650.14,253.56 651.30,253.52 652.45,253.49 653.61,253.46 654.76,253.43 655.92,253.40 657.08,253.37 658.23,253.35 659.39,253.32 660.54,253.30 661.70,253.28" fill="none" stroke="#a0a0a0" stroke-width="0.75"/>
<polyline points="575.00,273.00 576.16,270.94 577.31,268.99 578.47,267.15 579.62,265.41 580.78,263.76 581.94,262.21 583.09,260.74 584.25,259.34 585.40,258.03 586.56,256.78 587.72,255.61 588.87,254.49 590.03,253.44 591.18,252.45 592.34,251.51 593.50,250.62 594.65,249.78 595.81,248.98 596.96,248.23 598.12,247.52 599.28,246.85 600.43,246.21 601.59,245.61 602.74,245.04 603.90,244.51 605.06,244.00 606.21,243.52 607.37,243.06 608.52,242.63 609.68,242.23 610.84,241.84 611.99,241.48 613.15,241.14 614.30,240.81 615.46,240.51 616.62,240.22 617.77,239.94 618.93,239.68 620.08,239.44 621.24,239.21 622.40,238.99 623.55,238.78 624.71,238.58 625.86,238.40 627.02,238.22 628.18,238.06 629.33,237.90 630.49,237.75 631.64,237.61 632.80,237.48 633.96,237.35 635.11,237.24 636.27,237.12 637.42,237.02 638.58,236.92 639.74,236.82 640.89,236.73 642.05,236.65 643.20,236.57 644.36,236.49 645.52,236.42 646.67,236.35 647.83,236.29 648.98,236.23 650.14,236.17 651.30,236.12 652.45,236.07 653.61,236.02 654.76,235.97 655.92,235.93 657.08,235.89 658.23,235.85 659.39,235.81 660.54,235.78 661.70,235.75" fill="none" stroke="#a0a0a0" stroke-width="0.75"/>
<polyline points="575.00,273.00 576.16,266.37 577.31,260.64 578.47,255.67 579.62,251.37 580.78,247.64 581.94,244.41 583.09,241.62 584.25,239.20 585.40,237.11 586.56,235.30 587.72,233.73 588.87,232.37 590.03,231.19 591.18,230.17 592.34,229.29 593.50,228.52 594.65,227.86 595.81,227.29 596.96,226.79 598.12,226.36 599.28,225.99 600.43,225.67 601.59,225.39 602.74,225.15 603.90,224.94 605.06,224.76 606.21,224.60 607.37,224.47 608.52,224.35 609.68,224.25 610.84,224.16 611.99,224.08 613.15,224.02 614.30,223.96 615.46,223.91 616.62,223.87 617.77,223.83 618.93,223.80 620.08,223.77 621.24,223.75 622.40,223.72 623.55,223.71 624.71,223.69 625.86,223.68 627.02,223.67 628.18,223.66 629.33,223.65 630.49,223.64 631.64,223.63 632.80,223.63 633.96,223.62 635.11,223.62 636.27,223.61 637.42,223.61 638.58,223.61 639.74,223.61 640.89,223.60 642.05,223.60 643.20,223.60 644.36,223.60 645.52,223.60 646.67,223.60 647.83,223.60 648.98,223.59 650.14,223.59 651.30,223.59 652.45,223.59 653.61,223.59 654.76,223.59 655.92,223.59 657.08,223.59 658.23,223.59 659.39,223.59 660.54,223.59 661.70,223.59" fill="none" stroke="#a0a0a0" stroke-width="0.75"/>
<polyline points="575.00,273.00 576.16,272.91 577.31,272.82 578.47,272.74 579.62,272.66 580.78,272.58 581.94,272.51 583.09,272.44 584.25,272.38 585.40,272.32 586.56,272.26 587.72,272.20 588.87,272.15 590.03,272.09 591.18,272.04 592.34,272.00 593.50,271.95 594.65,271.91 595.81,271.87 596.96,271.83 598.12,271.80 599.28,271.76 600.43,271.73 601.59,271.70 602.74,271.66 603.90,271.64 605.06,271.61 606.21,271.58 607.37,271.56 608.52,271.53 609.68,271.51 610.84,271.49 611.99,271.47 613.15,271.45 614.30,271.43 615.46,271.41 616.62,271.39 617.77,271.38 618.93,271.36 620.08,271.35 621.24,271.33 622.40,271.32 623.55,271.31 624.71,271.30 625.86,271.28 627.02,271.27 628.18,271.26 629.33,271.25 630.49,271.24 631.64,271.23 632.80,271.23 633.96,271.22 635.11,271.21 636.27,271.20 637.42,271.19 638.58,271.19 639.74,271.18 640.89,271.17 642.05,271.17 643.20,271.16 644.36,271.16 645.52,271.15 646.67,271.15 647.83,271.14 648.98,271.14 650.14,271.13 651.30,271.13 652.45,271.13 653.61,271.12 654.76,271.12 655.92,271.12 657.08,271.11 658.23,271.11 659.39,271.11 660.54,271.10 661.70,271.10" fill="none" stroke="#a0a0a0" stroke-width="0.75"/>
<line x1="575.00" y1="273.00" x2="661.70" y2="273.00" stroke="#4a4a4a" stroke-width="1.4" />
<polyline points="575.00,273.00 575.72,273.06 576.45,273.12 577.17,273.18 577.89,273.24 578.61,273.29 579.34,273.35 580.06,273.41 580.78,273.47 581.50,273.53 582.23,273.58 582.95,273.64 583.67,273.70 584.39,273.76 585.12,273.81 585.84,273.87 586.56,273.93 587.28,273.98 588.00,274.04 588.73,274.10 589.45,274.15 590.17,274.21 590.89,274.27 591.62,274.32 592.34,274.38 593.06,274.43 593.78,274.49 594.51,274.54 595.23,274.60 595.95,274.66 596.67,274.71 597.40,274.76 598.12,274.82 598.84,274.87 599.57,274.93 600.29,274.98 601.01,275.04 601.73,275.09 602.46,275.14 603.18,275.20 603.90,275.25 604.62,275.31 605.35,275.36 606.07,275.41 606.79,275.47 607.51,275.52 608.24,275.57 608.96,275.62 609.68,275.68 610.40,275.73 611.12,275.78 611.85,275.83 612.57,275.89 613.29,275.94 614.01,275.99 614.74,276.04 615.46,276.09 616.18,276.14 616.90,276.19 617.63,276.25 618.35,276.30 618.78,276.33 619.51,276.39 620.23,276.46 620.95,276.52 621.67,276.58 622.40,276.64 623.12,276.70 623.84,276.76 624.56,276.82 625.29,276.88 626.01,276.94 626.73,277.00 627.45,277.07 628.18,277.13 628.90,277.19 629.62,277.25 630.34,277.31 631.07,277.37 631.79,277.43 632.51,277.49 633.23,277.55 633.96,277.61 634.68,277.68 635.40,277.74 636.12,277.80 636.85,277.86 637.57,277.92 638.29,277.98 639.01,278.04 639.74,278.10 640.46,278.16 641.18,278.22 641.90,278.29 642.63,278.35 643.35,278.41 644.07,278.47 644.79,278.53 645.52,278.59 646.24,278.65 646.96,278.71 647.68,278.77 648.41,278.83 649.13,278.90 649.85,278.96 650.57,279.02 651.30,279.08 652.02,279.14 652.74,279.20 653.46,279.26 654.19,279.32 654.91,279.38 655.63,279.44 656.35,279.51 657.08,279.57 657.80,279.63 658.52,279.69 659.24,279.75 659.97,279.81 660.69,279.87 661.41,279.93" fill="none" stroke="#bde3aa" stroke-width="1.7" stroke-linejoin="round"/>
<polyline points="575.00,273.00 575.72,272.86 576.45,272.73 577.17,272.60 577.89,272.47 578.61,272.34 579.34,272.21 580.06,272.09 580.78,271.97 581.50,271.84 582.23,271.73 582.95,271.61 583.67,271.49 584.39,271.38 585.12,271.27 585.84,271.16 586.56,271.05 587.28,270.94 588.00,270.83 588.73,270.73 589.45,270.63 590.17,270.53 590.89,270.43 591.62,270.33 592.34,270.23 593.06,270.14 593.78,270.05 594.51,269.95 595.23,269.86 595.95,269.77 596.67,269.68 597.40,269.60 598.12,269.51 598.84,269.43 599.57,269.34 600.29,269.26 601.01,269.18 601.73,269.10 602.46,269.02 603.18,268.95 603.90,268.87 604.62,268.80 605.35,268.72 606.07,268.65 606.79,268.58 607.51,268.51 608.24,268.44 608.96,268.37 609.68,268.30 610.40,268.24 611.12,268.17 611.85,268.11 612.57,268.04 613.29,267.98 614.01,267.92 614.74,267.86 615.46,267.80 616.18,267.74 616.90,267.68 617.63,267.63 618.35,267.57 618.78,267.58 619.51,267.59 620.23,267.60 620.95,267.61 621.67,267.62 622.40,267.63 623.12,267.64 623.84,267.65 624.56,267.66 625.29,267.67 626.01,267.68 626.73,267.69 627.45,267.70 628.18,267.71 628.90,267.72 629.62,267.73 630.34,267.74 631.07,267.75 631.79,267.76 632.51,267.77 633.23,267.78 633.96,267.79 634.68,267.80 635.40,267.81 636.12,267.82 636.85,267.83 637.57,267.84 638.29,267.85 639.01,267.86 639.74,267.87 640.46,267.88 641.18,267.89 641.90,267.90 642.63,267.91 643.35,267.92 644.07,267.93 644.79,267.94 645.52,267.95 646.24,267.96 646.96,267.97 647.68,267.98 648.41,267.99 649.13,268.00 649.85,268.01 650.57,268.02 651.30,268.03 652.02,268.04 652.74,268.05 653.46,268.06 654.19,268.07 654.91,268.08 655.63,268.09 656.35,268.10 657.08,268.12 657.80,268.13 658.52,268.14 659.24,268.15 659.97,268.16 660.69,268.17 661.41,268.18" fill="none" stroke="#6acb3c" stroke-width="1.5" stroke-linejoin="round"/>
<polyline points="575.00,273.00 575.72,272.60 576.45,272.20 577.17,271.81 577.89,271.42 578.61,271.04 579.34,270.66 580.06,270.29 580.78,269.92 581.50,269.55 582.23,269.19 582.95,268.83 583.67,268.47 584.39,268.12 585.12,267.78 585.84,267.43 586.56,267.09 587.28,266.76 588.00,266.43 588.73,266.10 589.45,265.77 590.17,265.45 590.89,265.13 591.62,264.82 592.34,264.51 593.06,264.20 593.78,263.90 594.51,263.60 595.23,263.30 595.95,263.00 596.67,262.71 597.40,262.42 598.12,262.14 598.84,261.86 599.57,261.58 600.29,261.30 601.01,261.03 601.73,260.76 602.46,260.50 603.18,260.23 603.90,259.97 604.62,259.71 605.35,259.46 606.07,259.21 606.79,258.96 607.51,258.71 608.24,258.47 608.96,258.22 609.68,257.99 610.40,257.75 611.12,257.52 611.85,257.29 612.57,257.06 613.29,256.83 614.01,256.61 614.74,256.39 615.46,256.17 616.18,255.95 616.90,255.74 617.63,255.53 618.35,255.32 618.78,255.30 619.51,255.28 620.23,255.26 620.95,255.24 621.67,255.22 622.40,255.20 623.12,255.18 623.84,255.16 624.56,255.14 625.29,255.12 626.01,255.10 626.73,255.08 627.45,255.06 628.18,255.04 628.90,255.02 629.62,255.00 630.34,254.98 631.07,254.96 631.79,254.94 632.51,254.92 633.23,254.90 633.96,254.88 634.68,254.86 635.40,254.84 636.12,254.82 636.85,254.80 637.57,254.78 638.29,254.76 639.01,254.74 639.74,254.71 640.46,254.69 641.18,254.67 641.90,254.65 642.63,254.63 643.35,254.61 644.07,254.59 644.79,254.57 645.52,254.55 646.24,254.53 646.96,254.51 647.68,254.49 648.41,254.47 649.13,254.45 649.85,254.43 650.57,254.41 651.30,254.39 652.02,254.37 652.74,254.35 653.46,254.33 654.19,254.31 654.91,254.29 655.63,254.27 656.35,254.25 657.08,254.23 657.80,254.21 658.52,254.19 659.24,254.17 659.97,254.15 660.69,254.13 661.41,254.10" fill="none" stroke="#48a52c" stroke-width="1.5" stroke-linejoin="round"/>
<polyline points="575.00,273.00 575.72,270.14 576.45,267.68 577.17,265.55 577.89,263.68 578.61,262.03 579.34,260.55 580.06,259.21 580.78,257.98 581.50,256.86 582.23,255.82 582.95,254.86 583.67,253.95 584.39,253.10 585.12,252.30 585.84,251.54 586.56,250.82 587.28,250.13 588.00,249.48 588.73,248.86 589.45,248.26 590.17,247.69 590.89,247.15 591.62,246.62 592.34,246.12 593.06,245.64 593.78,245.18 594.51,244.74 595.23,244.32 595.95,243.91 596.67,243.52 597.40,243.14 598.12,242.78 598.84,242.44 599.57,242.10 600.29,241.78 601.01,241.48 601.73,241.18 602.46,240.90 603.18,240.63 603.90,240.36 604.62,240.11 605.35,239.87 606.07,239.64 606.79,239.42 607.51,239.20 608.24,239.00 608.96,238.80 609.68,238.61 610.40,238.43 611.12,238.25 611.85,238.08 612.57,237.92 613.29,237.77 614.01,237.62 614.74,237.47 615.46,237.34 616.18,237.20 616.90,237.08 617.63,236.96 618.35,236.84 618.78,236.83 619.51,236.82 620.23,236.81 620.95,236.79 621.67,236.78 622.40,236.77 623.12,236.76 623.84,236.74 624.56,236.73 625.29,236.72 626.01,236.71 626.73,236.70 627.45,236.68 628.18,236.67 628.90,236.66 629.62,236.65 630.34,236.64 631.07,236.62 631.79,236.61 632.51,236.60 633.23,236.59 633.96,236.57 634.68,236.56 635.40,236.55 636.12,236.54 636.85,236.53 637.57,236.51 638.29,236.50 639.01,236.49 639.74,236.48 640.46,236.46 641.18,236.45 641.90,236.44 642.63,236.43 643.35,236.42 644.07,236.40 644.79,236.39 645.52,236.38 646.24,236.37 646.96,236.35 647.68,236.34 648.41,236.33 649.13,236.32 649.85,236.31 650.57,236.29 651.30,236.28 652.02,236.27 652.74,236.26 653.46,236.24 654.19,236.23 654.91,236.22 655.63,236.21 656.35,236.20 657.08,236.18 657.80,236.17 658.52,236.16 659.24,236.15 659.97,236.13 660.69,236.12 661.41,236.11" fill="none" stroke="#387f24" stroke-width="1.8" stroke-linejoin="round"/>
<polyline points="575.00,273.00 575.72,267.85 576.45,263.47 577.17,259.73 577.89,256.52 578.61,253.75 579.34,251.34 580.06,249.23 580.78,247.39 581.50,245.75 582.23,244.30 582.95,242.99 583.67,241.82 584.39,240.76 585.12,239.79 585.84,238.91 586.56,238.09 587.28,237.34 588.00,236.64 588.73,235.99 589.45,235.38 590.17,234.80 590.89,234.27 591.62,233.76 592.34,233.28 593.06,232.83 593.78,232.39 594.51,231.99 595.23,231.60 595.95,231.23 596.67,230.88 597.40,230.54 598.12,230.22 598.84,229.91 599.57,229.62 600.29,229.34 601.01,229.07 601.73,228.82 602.46,228.57 603.18,228.34 603.90,228.11 604.62,227.90 605.35,227.69 606.07,227.50 606.79,227.31 607.51,227.13 608.24,226.95 608.96,226.79 609.68,226.63 610.40,226.48 611.12,226.33 611.85,226.19 612.57,226.06 613.29,225.93 614.01,225.81 614.74,225.69 615.46,225.58 616.18,225.47 616.90,225.37 617.63,225.27 618.35,225.17 618.78,225.17 619.51,225.15 620.23,225.14 620.95,225.13 621.67,225.12 622.40,225.11 623.12,225.10 623.84,225.09 624.56,225.08 625.29,225.07 626.01,225.06 626.73,225.05 627.45,225.04 628.18,225.03 628.90,225.02 629.62,225.01 630.34,225.00 631.07,224.99 631.79,224.98 632.51,224.97 633.23,224.96 633.96,224.95 634.68,224.94 635.40,224.93 636.12,224.92 636.85,224.91 637.57,224.90 638.29,224.89 639.01,224.88 639.74,224.87 640.46,224.86 641.18,224.85 641.90,224.84 642.63,224.83 643.35,224.82 644.07,224.81 644.79,224.80 645.52,224.79 646.24,224.78 646.96,224.77 647.68,224.76 648.41,224.75 649.13,224.74 649.85,224.73 650.57,224.72 651.30,224.71 652.02,224.70 652.74,224.69 653.46,224.68 654.19,224.67 654.91,224.66 655.63,224.65 656.35,224.64 657.08,224.63 657.80,224.62 658.52,224.61 659.24,224.60 659.97,224.59 660.69,224.58 661.41,224.57" fill="none" stroke="#2f5e21" stroke-width="2.0" stroke-linejoin="round"/>
<rect x="668.3" y="203.6" width="2.7" height="12.2" fill="#c2c2c2"/>
<line x1="668.30" y1="218.50" x2="685.00" y2="218.50" stroke="#3b9fd0" stroke-width="1.5" />
<line x1="668.30" y1="221.80" x2="685.00" y2="221.80" stroke="#ee6d73" stroke-width="1.5" />
<line x1="343.00" y1="312.40" x2="353.60" y2="312.40" stroke="#c8c8c8" stroke-width="0.9" />
<circle cx="348.30" cy="312.4" r="1.3" fill="#d8ecd0"/>
<text transform="translate(358.40,315.30) scale(1,1.08)" font-size="8" fill="#444" text-anchor="start" font-weight="normal" >0 nM</text>
<line x1="387.00" y1="312.40" x2="397.60" y2="312.40" stroke="#b8dca8" stroke-width="0.9" />
<circle cx="392.30" cy="312.4" r="1.3" fill="#bde3aa"/>
<text transform="translate(403.00,315.30) scale(1,1.08)" font-size="8" fill="#444" text-anchor="start" font-weight="normal" >6 nM</text>
<line x1="429.00" y1="312.40" x2="439.60" y2="312.40" stroke="#a8b8a0" stroke-width="0.9" />
<circle cx="434.30" cy="312.4" r="1.3" fill="#6acb3c"/>
<text transform="translate(445.60,315.30) scale(1,1.08)" font-size="8" fill="#444" text-anchor="start" font-weight="normal" >19 nM</text>
<line x1="475.50" y1="312.40" x2="486.10" y2="312.40" stroke="#a8b8a0" stroke-width="0.9" />
<circle cx="480.80" cy="312.4" r="1.3" fill="#48a52c"/>
<text transform="translate(491.80,315.30) scale(1,1.08)" font-size="8" fill="#444" text-anchor="start" font-weight="normal" >56 nM</text>
<line x1="527.00" y1="312.40" x2="537.60" y2="312.40" stroke="#a8b8a0" stroke-width="0.9" />
<circle cx="532.30" cy="312.4" r="1.3" fill="#387f24"/>
<text transform="translate(543.20,315.30) scale(1,1.08)" font-size="8" fill="#444" text-anchor="start" font-weight="normal" >167 nM</text>
<line x1="580.40" y1="312.40" x2="591.00" y2="312.40" stroke="#a8b8a0" stroke-width="0.9" />
<circle cx="585.70" cy="312.4" r="1.3" fill="#2f5e21"/>
<text transform="translate(595.30,315.30) scale(1,1.08)" font-size="8" fill="#444" text-anchor="start" font-weight="normal" >500 nM</text>
<text x="4.80" y="364.90" font-size="16.5" fill="#111" font-weight="bold">i</text>
<line x1="24.60" y1="385.20" x2="24.60" y2="465.00" stroke="#d6d6d6" stroke-width="0.8" />
<line x1="83.80" y1="385.20" x2="83.80" y2="465.00" stroke="#d6d6d6" stroke-width="0.8" />
<line x1="143.00" y1="385.20" x2="143.00" y2="465.00" stroke="#d6d6d6" stroke-width="0.8" />
<line x1="202.20" y1="385.20" x2="202.20" y2="465.00" stroke="#d6d6d6" stroke-width="0.8" />
<line x1="24.60" y1="465.00" x2="202.20" y2="465.00" stroke="#d6d6d6" stroke-width="1.5" />
<text transform="translate(16.40,388.10) scale(1,1.08)" font-size="8.8" fill="#555" text-anchor="end" font-weight="normal" >9</text>
<text transform="translate(16.40,405.90) scale(1,1.08)" font-size="8.8" fill="#555" text-anchor="end" font-weight="normal" >7</text>
<text transform="translate(16.40,423.70) scale(1,1.08)" font-size="8.8" fill="#555" text-anchor="end" font-weight="normal" >5</text>
<text transform="translate(16.40,441.50) scale(1,1.08)" font-size="8.8" fill="#555" text-anchor="end" font-weight="normal" >3</text>
<text transform="translate(16.40,459.30) scale(1,1.08)" font-size="8.8" fill="#555" text-anchor="end" font-weight="normal" >1</text>
<text transform="translate(16.40,477.10) scale(1,1.08)" font-size="8.8" fill="#555" text-anchor="end" font-weight="normal" >-1</text>
<text transform="translate(24.60,478.40) scale(1,1.08)" font-size="8.6" fill="#555" text-anchor="middle" font-weight="normal" >1</text>
<text transform="translate(83.80,478.40) scale(1,1.08)" font-size="8.6" fill="#555" text-anchor="middle" font-weight="normal" >10</text>
<text transform="translate(143.00,478.40) scale(1,1.08)" font-size="8.6" fill="#555" text-anchor="middle" font-weight="normal" >100</text>
<text transform="translate(202.20,478.40) scale(1,1.08)" font-size="8.6" fill="#555" text-anchor="middle" font-weight="normal" >1000</text>
<text transform="translate(94.40,486.60) scale(1,1.08)" font-size="9.2" fill="#555" text-anchor="start" font-weight="normal" >αSO (nM)</text>
<text transform="translate(8.60,429.00) rotate(-90)" font-size="9.4" fill="#666" text-anchor="middle">ΔR<tspan font-size="6" dy="1.5">H</tspan><tspan dy="-1.5">(nm)</tspan></text>
<path d="M35.02,462.33 C40.18,462.33 56.11,462.18 65.98,462.33 C75.85,462.48 84.36,463.00 94.22,463.22 C104.09,463.44 115.31,466.93 125.18,463.67 C135.05,460.40 143.56,453.80 153.42,443.64 C163.29,433.48 179.22,409.52 184.38,402.70" fill="none" stroke="#f28a4c" stroke-width="1.2"/>
<circle cx="35.02" cy="462.33" r="2.8" fill="#f28a4c"/>
<circle cx="65.98" cy="462.33" r="2.8" fill="#f28a4c"/>
<circle cx="94.22" cy="463.22" r="2.8" fill="#f28a4c"/>
<circle cx="125.18" cy="463.67" r="2.8" fill="#f28a4c"/>
<circle cx="153.42" cy="443.64" r="2.8" fill="#f28a4c"/>
<circle cx="184.38" cy="402.70" r="2.8" fill="#f28a4c"/>
<path d="M35.02,461.88 C40.18,461.88 56.11,462.03 65.98,461.88 C75.85,461.74 84.36,461.59 94.22,461.00 C104.09,460.40 115.31,460.62 125.18,458.32 C135.05,456.03 143.56,452.85 153.42,447.20 C163.29,441.55 179.22,428.21 184.38,424.42" fill="none" stroke="#dc6428" stroke-width="1.2"/>
<circle cx="35.02" cy="461.88" r="2.8" fill="#dc6428"/>
<circle cx="65.98" cy="461.88" r="2.8" fill="#dc6428"/>
<circle cx="94.22" cy="461.00" r="2.8" fill="#dc6428"/>
<circle cx="125.18" cy="458.32" r="2.8" fill="#dc6428"/>
<circle cx="153.42" cy="447.20" r="2.8" fill="#dc6428"/>
<circle cx="184.38" cy="424.42" r="2.8" fill="#dc6428"/>
<path d="M35.02,465.89 C40.18,465.89 56.11,466.11 65.98,465.89 C75.85,465.67 84.36,465.89 94.22,464.56 C104.09,463.22 115.31,464.01 125.18,457.88 C135.05,451.75 143.56,435.44 153.42,427.80 C163.29,420.16 179.22,414.67 184.38,412.05" fill="none" stroke="#8c3c14" stroke-width="1.2"/>
<circle cx="35.02" cy="465.89" r="2.8" fill="#8c3c14"/>
<circle cx="65.98" cy="465.89" r="2.8" fill="#8c3c14"/>
<circle cx="94.22" cy="464.56" r="2.8" fill="#8c3c14"/>
<circle cx="125.18" cy="457.88" r="2.8" fill="#8c3c14"/>
<circle cx="153.42" cy="427.80" r="2.8" fill="#8c3c14"/>
<circle cx="184.38" cy="412.05" r="2.8" fill="#8c3c14"/>
<path d="M153.42,460.55 V438.30 M151.62,460.55 h3.6 M151.62,438.30 h3.6" stroke="#f28a4c" stroke-width="0.8" fill="none"/>
<path d="M153.42,435.63 V420.50 M151.62,435.63 h3.6 M151.62,420.50 h3.6" stroke="#8c3c14" stroke-width="0.8" fill="none"/>
<line x1="35.20" y1="385.20" x2="54.20" y2="385.20" stroke="#f28a4c" stroke-width="1.2" />
<circle cx="44.50" cy="385.20" r="1.9" fill="#f28a4c"/>
<text x="56.20" y="387.80" font-size="7.9" fill="#6e6e6e" textLength="24.6" lengthAdjust="spacing">3T+L1:</text>
<text x="81.80" y="388.10" font-size="8.4" fill="#1a1a1a" stroke="#1a1a1a" stroke-width="0.2">K<tspan font-size="6" dy="1.8">D</tspan><tspan dy="-1.8"> = 146nM</tspan></text>
<line x1="35.20" y1="411.00" x2="54.20" y2="411.00" stroke="#dc6428" stroke-width="1.2" />
<circle cx="44.50" cy="411.00" r="1.9" fill="#dc6428"/>
<text x="56.20" y="413.60" font-size="7.9" fill="#6e6e6e" textLength="23.2" lengthAdjust="spacing">3T+L2:</text>
<text x="81.40" y="413.90" font-size="8.4" fill="#1a1a1a" stroke="#1a1a1a" stroke-width="0.2">K<tspan font-size="6" dy="1.8">D</tspan><tspan dy="-1.8"> = 245nM</tspan></text>
<line x1="35.20" y1="436.30" x2="54.20" y2="436.30" stroke="#8c3c14" stroke-width="1.2" />
<circle cx="44.50" cy="436.30" r="1.9" fill="#8c3c14"/>
<text x="56.20" y="438.90" font-size="7.9" fill="#6e6e6e" textLength="35" lengthAdjust="spacing">3T+L1+L2</text>
<text x="93.70" y="439.20" font-size="8.4" fill="#1a1a1a" stroke="#1a1a1a" stroke-width="0.2">K<tspan font-size="6" dy="1.8">D</tspan><tspan dy="-1.8"> = 57.6nM</tspan></text>
<text x="259.00" y="361.70" font-size="16.5" fill="#111" font-weight="bold">j</text>
<line x1="242.40" y1="379.20" x2="242.40" y2="463.20" stroke="#d6d6d6" stroke-width="0.8" />
<line x1="296.60" y1="379.20" x2="296.60" y2="463.20" stroke="#d6d6d6" stroke-width="0.8" />
<line x1="350.80" y1="379.20" x2="350.80" y2="463.20" stroke="#d6d6d6" stroke-width="0.8" />
<line x1="405.00" y1="379.20" x2="405.00" y2="463.20" stroke="#d6d6d6" stroke-width="0.8" />
<line x1="242.40" y1="463.20" x2="405.00" y2="463.20" stroke="#8cad85" stroke-width="1.5" />
<text transform="translate(235.20,392.90) scale(1,1.08)" font-size="8.8" fill="#555" text-anchor="end" font-weight="normal" >7</text>
<text transform="translate(235.20,413.90) scale(1,1.08)" font-size="8.8" fill="#555" text-anchor="end" font-weight="normal" >5</text>
<text transform="translate(235.20,434.90) scale(1,1.08)" font-size="8.8" fill="#555" text-anchor="end" font-weight="normal" >3</text>
<text transform="translate(235.20,455.90) scale(1,1.08)" font-size="8.8" fill="#555" text-anchor="end" font-weight="normal" >1</text>
<text transform="translate(235.20,476.90) scale(1,1.08)" font-size="8.8" fill="#555" text-anchor="end" font-weight="normal" >-1</text>
<text transform="translate(242.40,476.60) scale(1,1.08)" font-size="8.6" fill="#555" text-anchor="middle" font-weight="normal" >1</text>
<text transform="translate(296.60,476.60) scale(1,1.08)" font-size="8.6" fill="#555" text-anchor="middle" font-weight="normal" >10</text>
<text transform="translate(350.80,476.60) scale(1,1.08)" font-size="8.6" fill="#555" text-anchor="middle" font-weight="normal" >100</text>
<text transform="translate(405.00,476.60) scale(1,1.08)" font-size="8.6" fill="#555" text-anchor="middle" font-weight="normal" >1000</text>
<text transform="translate(305.00,484.80) scale(1,1.08)" font-size="9.2" fill="#555" text-anchor="start" font-weight="normal" >aSO(nM)</text>
<text transform="translate(226.00,425.80) rotate(-90)" font-size="9.4" fill="#666" text-anchor="middle">ΔR<tspan font-size="6" dy="1.5">H</tspan><tspan dy="-1.5">(nm)</tspan></text>
<path d="M251.94,463.20 C256.67,463.38 271.25,464.07 280.28,464.25 C289.32,464.43 297.11,464.56 306.14,464.25 C315.18,463.94 325.45,463.41 334.48,462.36 C343.52,461.31 351.31,466.56 360.34,457.95 C369.38,449.34 383.96,418.57 388.68,410.70" fill="none" stroke="#f28a4c" stroke-width="1.2"/>
<circle cx="251.94" cy="463.20" r="2.8" fill="#f28a4c"/>
<circle cx="280.28" cy="464.25" r="2.8" fill="#f28a4c"/>
<circle cx="306.14" cy="464.25" r="2.8" fill="#f28a4c"/>
<circle cx="334.48" cy="462.36" r="2.8" fill="#f28a4c"/>
<circle cx="360.34" cy="457.95" r="2.8" fill="#f28a4c"/>
<circle cx="388.68" cy="410.70" r="2.8" fill="#f28a4c"/>
<path d="M251.94,463.20 C256.67,463.29 271.25,463.64 280.28,463.72 C289.32,463.81 297.11,464.34 306.14,463.72 C315.18,463.11 325.45,465.21 334.48,460.05 C343.52,454.89 351.31,443.43 360.34,432.75 C369.38,422.07 383.96,402.12 388.68,396.00" fill="none" stroke="#dc6428" stroke-width="1.2"/>
<circle cx="251.94" cy="463.20" r="2.8" fill="#dc6428"/>
<circle cx="280.28" cy="463.72" r="2.8" fill="#dc6428"/>
<circle cx="306.14" cy="463.72" r="2.8" fill="#dc6428"/>
<circle cx="334.48" cy="460.05" r="2.8" fill="#dc6428"/>
<circle cx="360.34" cy="432.75" r="2.8" fill="#dc6428"/>
<circle cx="388.68" cy="396.00" r="2.8" fill="#dc6428"/>
<path d="M251.94,463.20 C256.67,463.38 271.25,464.07 280.28,464.25 C289.32,464.43 297.11,465.21 306.14,464.25 C315.18,463.29 325.45,463.72 334.48,458.47 C343.52,453.22 351.31,441.24 360.34,432.75 C369.38,424.26 383.96,411.75 388.68,407.55" fill="none" stroke="#8c3c14" stroke-width="1.2"/>
<circle cx="251.94" cy="463.20" r="2.8" fill="#8c3c14"/>
<circle cx="280.28" cy="464.25" r="2.8" fill="#8c3c14"/>
<circle cx="306.14" cy="464.25" r="2.8" fill="#8c3c14"/>
<circle cx="334.48" cy="458.47" r="2.8" fill="#8c3c14"/>
<circle cx="360.34" cy="432.75" r="2.8" fill="#8c3c14"/>
<circle cx="388.68" cy="407.55" r="2.8" fill="#8c3c14"/>
<path d="M360.34,435.90 V428.55 M358.54,435.90 h3.6 M358.54,428.55 h3.6" stroke="#8c3c14" stroke-width="0.8" fill="none"/>
<path d="M388.68,413.85 V407.55 M386.88,413.85 h3.6 M386.88,407.55 h3.6" stroke="#f28a4c" stroke-width="0.8" fill="none"/>
<line x1="249.20" y1="388.10" x2="268.20" y2="388.10" stroke="#f28a4c" stroke-width="1.2" />
<circle cx="258.50" cy="388.10" r="1.9" fill="#f28a4c"/>
<text x="270.20" y="390.70" font-size="7.9" fill="#6e6e6e" textLength="24.5" lengthAdjust="spacing">9T+L1:</text>
<text x="296.80" y="391.00" font-size="8.4" fill="#1a1a1a" stroke="#1a1a1a" stroke-width="0.2">K<tspan font-size="6" dy="1.8">D</tspan><tspan dy="-1.8"> = 254nM</tspan></text>
<line x1="249.20" y1="409.30" x2="268.20" y2="409.30" stroke="#dc6428" stroke-width="1.2" />
<circle cx="258.50" cy="409.30" r="1.9" fill="#dc6428"/>
<text x="270.20" y="411.90" font-size="7.9" fill="#6e6e6e" textLength="26.0" lengthAdjust="spacing">9T+L2 :</text>
<text x="298.60" y="412.20" font-size="8.4" fill="#1a1a1a" stroke="#1a1a1a" stroke-width="0.2">K<tspan font-size="6" dy="1.8">D</tspan><tspan dy="-1.8"> = 128nM</tspan></text>
<line x1="249.20" y1="430.40" x2="268.20" y2="430.40" stroke="#8c3c14" stroke-width="1.2" />
<circle cx="258.50" cy="430.40" r="1.9" fill="#8c3c14"/>
<text x="270.20" y="433.00" font-size="7.9" fill="#6e6e6e" textLength="35.7" lengthAdjust="spacing">9T+L1+L2</text>
<text x="307.50" y="433.30" font-size="8.4" fill="#1a1a1a" stroke="#1a1a1a" stroke-width="0.2">K<tspan font-size="6" dy="1.8">D</tspan><tspan dy="-1.8"> = 110nM</tspan></text>
</svg>
</body></html>
